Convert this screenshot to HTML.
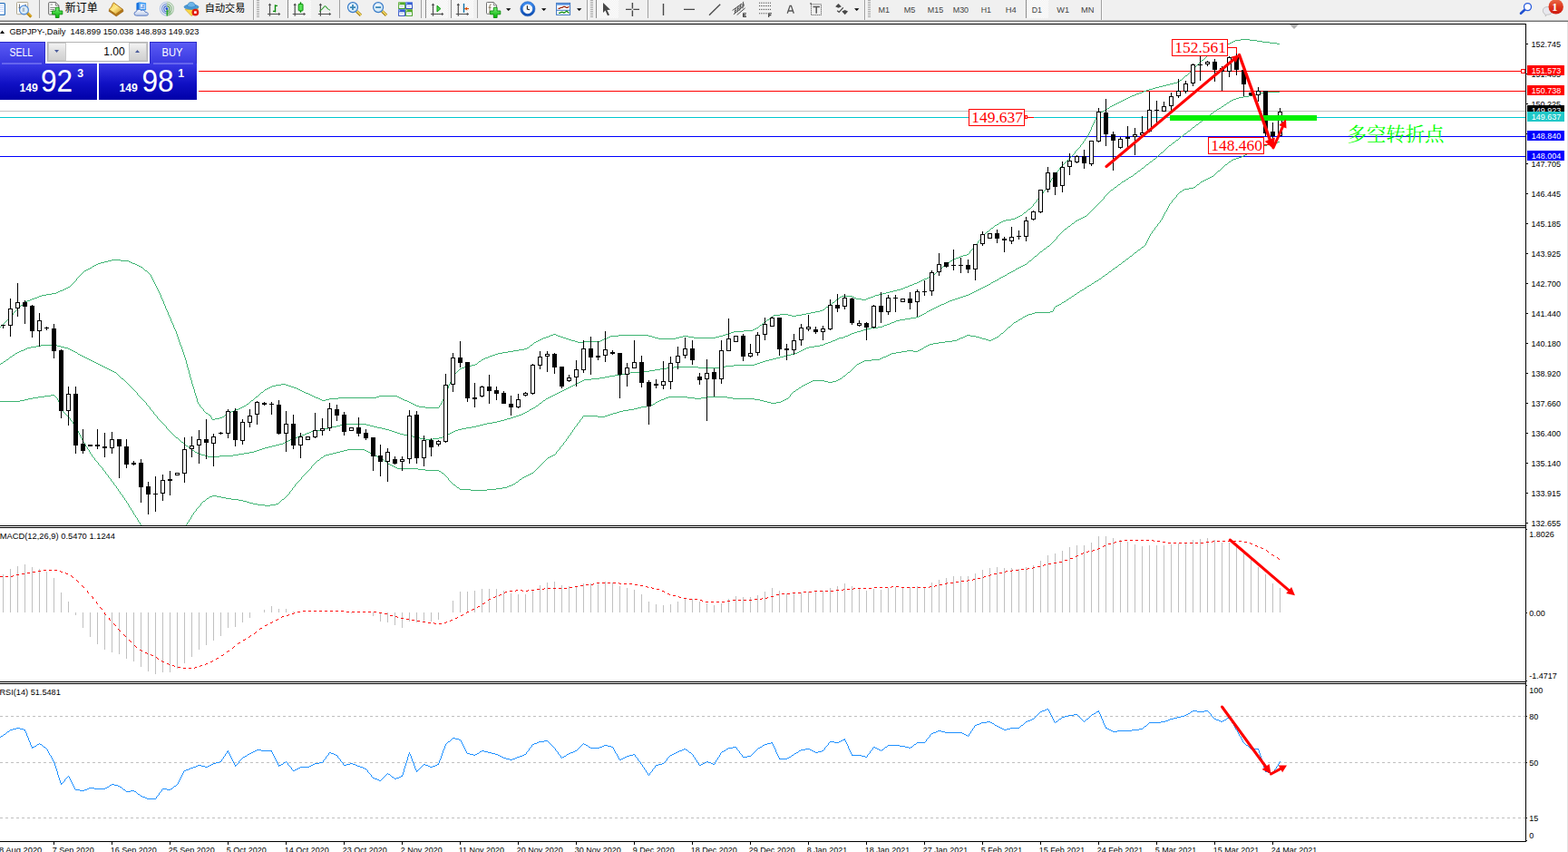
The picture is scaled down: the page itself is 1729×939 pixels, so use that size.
<!DOCTYPE html><html><head><meta charset="utf-8"><title>GBPJPY Daily</title>
<style>html,body{margin:0;padding:0;background:#fff;}body{width:1729px;height:939px;overflow:hidden;position:relative;font-family:"Liberation Sans",sans-serif;}svg{position:absolute;left:0;top:0;display:block}text{font-family:"Liberation Sans",sans-serif;}.ax{font-size:9px;fill:#000}.lb{font-size:9px;fill:#fff}.ser{font-family:"Liberation Serif",serif;font-size:17px;fill:#f00}</style></head><body>
<svg width="1729" height="939" viewBox="0 0 1729 939">
<defs><linearGradient id="gb1" x1="0" y1="0" x2="0" y2="1"><stop offset="0" stop-color="#5a5af5"/><stop offset="1" stop-color="#3838e0"/></linearGradient><linearGradient id="gb2" x1="0" y1="0" x2="0" y2="1"><stop offset="0" stop-color="#3a3ae6"/><stop offset="0.55" stop-color="#1010c4"/><stop offset="1" stop-color="#0000a8"/></linearGradient><linearGradient id="gsp" x1="0" y1="0" x2="0" y2="1"><stop offset="0" stop-color="#f4f4f4"/><stop offset="0.5" stop-color="#dedede"/><stop offset="1" stop-color="#d0d0d0"/></linearGradient></defs>
<rect width="1729" height="939" fill="#fff"/>
<g shape-rendering="crispEdges">
<rect x="0" y="78" width="1682" height="1" fill="#ff0000"/>
<rect x="0" y="100" width="1682" height="1" fill="#ff0000"/>
<rect x="0" y="122" width="1682" height="1" fill="#c0c0c0"/>
<rect x="0" y="129" width="1682" height="1" fill="#00c8d0"/>
<rect x="0" y="150" width="1682" height="1" fill="#0000ff"/>
<rect x="0" y="172" width="1682" height="1" fill="#0000ff"/>
</g>
<path d="M0 360h1v1h-1zM1 359h1v1h-1zM2 358h1v1h-1zM3 357h1v1h-1zM4 356h1v1h-1zM5 355h1v1h-1zM6 354h1v1h-1zM7 353h1v1h-1zM8 352h1v1h-1zM9 351h1v1h-1zM10 350h1v1h-1zM11 349h1v1h-1zM12 348h1v1h-1zM13 347h1v1h-1zM14 345h1v2h-1zM15 344h1v1h-1zM16 343h1v1h-1zM17 342h1v1h-1zM18 341h1v1h-1zM19 340h1v1h-1zM20 339h1v1h-1zM21 338h1v1h-1zM22 337h1v1h-1zM23 336h2v1h-2zM25 335h1v1h-1zM26 334h1v1h-1zM27 333h1v1h-1zM28 332h2v1h-2zM30 331h3v1h-3zM33 330h2v1h-2zM35 329h3v1h-3zM38 328h3v1h-3zM41 327h2v1h-2zM43 326h3v1h-3zM46 325h5v1h-5zM51 324h6v1h-6zM57 323h5v1h-5zM62 322h2v1h-2zM64 321h2v1h-2zM66 320h3v1h-3zM69 319h2v1h-2zM71 318h2v1h-2zM73 317h2v1h-2zM75 316h2v1h-2zM77 315h1v1h-1zM78 314h1v1h-1zM79 313h1v1h-1zM80 312h1v1h-1zM81 311h1v1h-1zM82 310h1v1h-1zM83 309h1v1h-1zM84 307h1v2h-1zM85 306h1v1h-1zM86 305h1v1h-1zM87 304h1v1h-1zM88 303h1v1h-1zM89 302h1v1h-1zM90 301h1v1h-1zM91 300h1v1h-1zM92 299h1v1h-1zM93 298h2v1h-2zM95 297h2v1h-2zM97 296h2v1h-2zM99 295h2v1h-2zM101 294h1v1h-1zM102 293h2v1h-2zM104 292h2v1h-2zM106 291h2v1h-2zM108 290h3v1h-3zM111 289h4v1h-4zM115 288h4v1h-4zM119 287h4v1h-4zM123 286h10v1h-10zM133 287h9v1h-9zM142 288h2v1h-2zM144 289h2v1h-2zM146 290h3v1h-3zM149 291h2v1h-2zM151 292h2v1h-2zM153 293h2v1h-2zM155 294h2v1h-2zM157 295h1v1h-1zM158 296h1v1h-1zM159 297h1v1h-1zM160 298h2v1h-2zM162 299h1v1h-1zM163 300h1v1h-1zM164 301h1v1h-1zM165 302h1v1h-1zM166 303h1v2h-1zM167 305h1v2h-1zM168 307h1v2h-1zM169 309h1v2h-1zM170 311h1v2h-1zM171 313h1v2h-1zM172 315h1v2h-1zM173 317h1v2h-1zM174 319h1v2h-1zM175 321h1v2h-1zM176 323h1v2h-1zM177 325h1v3h-1zM178 328h1v2h-1zM179 330h1v2h-1zM180 332h1v3h-1zM181 335h1v2h-1zM182 337h1v3h-1zM183 340h1v2h-1zM184 342h1v2h-1zM185 344h1v3h-1zM186 347h1v2h-1zM187 349h1v2h-1zM188 351h1v3h-1zM189 354h1v2h-1zM190 356h1v2h-1zM191 358h1v3h-1zM192 361h1v2h-1zM193 363h1v2h-1zM194 365h1v3h-1zM195 368h1v3h-1zM196 371h1v3h-1zM197 374h1v3h-1zM198 377h1v3h-1zM199 380h1v2h-1zM200 382h1v3h-1zM201 385h1v3h-1zM202 388h1v3h-1zM203 391h1v3h-1zM204 394h1v3h-1zM205 397h1v4h-1zM206 401h1v4h-1zM207 405h1v3h-1zM208 408h1v4h-1zM209 412h1v4h-1zM210 416h1v3h-1zM211 419h1v4h-1zM212 423h1v3h-1zM213 426h1v3h-1zM214 429h1v4h-1zM215 433h1v3h-1zM216 436h1v3h-1zM217 439h1v4h-1zM218 443h1v2h-1zM219 445h1v1h-1zM220 446h1v2h-1zM221 448h1v1h-1zM222 449h1v1h-1zM223 450h1v1h-1zM224 451h1v2h-1zM225 453h1v1h-1zM226 454h1v1h-1zM227 455h2v1h-2zM229 456h1v1h-1zM230 457h2v1h-2zM232 458h1v2h-1zM233 460h1v2h-1zM234 462h3v1h-3zM237 461h5v1h-5zM242 460h3v1h-3zM245 459h2v1h-2zM247 458h1v1h-1zM248 457h2v1h-2zM250 456h1v1h-1zM251 455h2v1h-2zM253 454h2v1h-2zM255 453h3v1h-3zM258 452h2v1h-2zM260 451h3v1h-3zM263 450h2v1h-2zM265 449h2v1h-2zM267 448h2v1h-2zM269 447h2v1h-2zM271 446h1v1h-1zM272 445h2v1h-2zM274 444h1v1h-1zM275 443h1v1h-1zM276 442h1v1h-1zM277 441h2v1h-2zM279 440h1v1h-1zM280 439h1v1h-1zM281 438h1v1h-1zM282 437h2v1h-2zM284 436h1v1h-1zM285 435h1v1h-1zM286 434h1v1h-1zM287 433h1v1h-1zM288 432h2v1h-2zM290 431h1v1h-1zM291 430h1v1h-1zM292 429h2v1h-2zM294 428h2v1h-2zM296 427h2v1h-2zM298 426h2v1h-2zM300 425h4v1h-4zM304 424h6v1h-6zM310 423h5v1h-5zM315 424h3v1h-3zM318 425h3v1h-3zM321 426h3v1h-3zM324 427h3v1h-3zM327 428h2v1h-2zM329 429h2v1h-2zM331 430h2v1h-2zM333 431h2v1h-2zM335 432h2v1h-2zM337 433h3v1h-3zM340 434h2v1h-2zM342 435h2v1h-2zM344 436h2v1h-2zM346 437h2v1h-2zM348 438h3v1h-3zM351 439h2v1h-2zM353 440h2v1h-2zM355 441h4v1h-4zM359 440h4v1h-4zM363 439h10v1h-10zM373 438h42v1h-42zM415 437h3v1h-3zM418 436h20v1h-20zM438 437h2v1h-2zM440 438h2v1h-2zM442 439h2v1h-2zM444 440h2v1h-2zM446 441h3v1h-3zM449 442h2v1h-2zM451 443h2v1h-2zM453 444h2v1h-2zM455 445h2v1h-2zM457 446h2v1h-2zM459 447h3v1h-3zM462 448h7v1h-7zM469 449h15v1h-15zM484 447h1v2h-1zM485 446h1v1h-1zM486 444h1v2h-1zM487 442h1v2h-1zM488 440h1v2h-1zM489 437h1v3h-1zM490 435h1v2h-1zM491 433h1v2h-1zM492 430h1v3h-1zM493 428h1v2h-1zM494 425h1v3h-1zM495 423h1v2h-1zM496 421h1v2h-1zM497 419h1v2h-1zM498 417h1v2h-1zM499 415h1v2h-1zM500 413h1v2h-1zM501 412h1v1h-1zM502 411h1v1h-1zM503 410h1v1h-1zM504 409h1v1h-1zM505 408h1v1h-1zM506 407h1v1h-1zM507 406h2v1h-2zM509 405h3v1h-3zM512 404h2v1h-2zM514 403h6v1h-6zM520 402h4v1h-4zM524 401h2v1h-2zM526 400h1v1h-1zM527 399h1v1h-1zM528 398h2v1h-2zM530 397h1v1h-1zM531 396h2v1h-2zM533 395h2v1h-2zM535 394h3v1h-3zM538 393h2v1h-2zM540 392h3v1h-3zM543 391h3v1h-3zM546 390h3v1h-3zM549 389h5v1h-5zM554 388h6v1h-6zM560 387h6v1h-6zM566 386h6v1h-6zM572 385h6v1h-6zM578 384h3v1h-3zM581 383h2v1h-2zM583 382h1v1h-1zM584 381h1v1h-1zM585 380h2v1h-2zM587 379h1v1h-1zM588 378h1v1h-1zM589 377h2v1h-2zM591 376h2v1h-2zM593 375h2v1h-2zM595 374h2v1h-2zM597 373h2v1h-2zM599 372h3v1h-3zM602 371h3v1h-3zM605 370h2v1h-2zM607 369h3v1h-3zM610 368h3v1h-3zM613 369h2v1h-2zM615 370h3v1h-3zM618 371h3v1h-3zM621 372h3v1h-3zM624 373h3v1h-3zM627 374h3v1h-3zM630 375h4v1h-4zM634 376h3v1h-3zM637 377h7v1h-7zM644 376h18v1h-18zM662 375h2v1h-2zM664 374h2v1h-2zM666 373h3v1h-3zM669 372h2v1h-2zM671 371h2v1h-2zM673 370h9v1h-9zM682 369h33v1h-33zM715 370h4v1h-4zM719 371h3v1h-3zM722 372h4v1h-4zM726 373h19v1h-19zM745 372h4v1h-4zM749 371h4v1h-4zM753 370h6v1h-6zM759 371h6v1h-6zM765 372h24v1h-24zM789 371h4v1h-4zM793 370h4v1h-4zM797 369h3v1h-3zM800 368h3v1h-3zM803 367h3v1h-3zM806 366h3v1h-3zM809 365h11v1h-11zM820 364h10v1h-10zM830 363h2v1h-2zM832 362h2v1h-2zM834 361h2v1h-2zM836 360h1v1h-1zM837 359h1v1h-1zM838 358h2v1h-2zM840 357h1v1h-1zM841 356h1v1h-1zM842 355h2v1h-2zM844 354h1v1h-1zM845 353h1v1h-1zM846 352h2v1h-2zM848 351h1v1h-1zM849 350h1v1h-1zM850 349h2v1h-2zM852 348h1v1h-1zM853 347h7v1h-7zM860 346h9v1h-9zM869 347h4v1h-4zM873 348h5v1h-5zM878 347h6v1h-6zM884 346h5v1h-5zM889 345h5v1h-5zM894 344h5v1h-5zM899 343h5v1h-5zM904 342h3v1h-3zM907 341h2v1h-2zM909 340h1v1h-1zM910 339h1v1h-1zM911 338h2v1h-2zM913 337h1v1h-1zM914 336h1v1h-1zM915 335h2v1h-2zM917 334h1v1h-1zM918 333h2v1h-2zM920 332h1v1h-1zM921 331h1v1h-1zM922 330h2v1h-2zM924 329h1v1h-1zM925 328h1v1h-1zM926 327h2v1h-2zM928 326h12v1h-12zM940 327h2v1h-2zM942 328h2v1h-2zM944 329h6v1h-6zM950 330h5v1h-5zM955 329h2v1h-2zM957 328h3v1h-3zM960 327h3v1h-3zM963 326h2v1h-2zM965 325h4v1h-4zM969 324h4v1h-4zM973 323h4v1h-4zM977 322h4v1h-4zM981 321h4v1h-4zM985 320h4v1h-4zM989 319h4v1h-4zM993 318h3v1h-3zM996 317h2v1h-2zM998 316h3v1h-3zM1001 315h2v1h-2zM1003 314h3v1h-3zM1006 313h2v1h-2zM1008 312h3v1h-3zM1011 311h2v1h-2zM1013 310h2v1h-2zM1015 309h2v1h-2zM1017 308h2v1h-2zM1019 307h3v1h-3zM1022 306h2v1h-2zM1024 305h2v1h-2zM1026 304h2v1h-2zM1028 303h2v1h-2zM1030 302h1v1h-1zM1031 301h1v1h-1zM1032 300h1v1h-1zM1033 299h1v1h-1zM1034 298h2v1h-2zM1036 297h1v1h-1zM1037 296h1v1h-1zM1038 295h1v1h-1zM1039 294h1v1h-1zM1040 293h1v1h-1zM1041 292h2v1h-2zM1043 291h1v1h-1zM1044 290h2v1h-2zM1046 289h1v1h-1zM1047 288h1v1h-1zM1048 287h2v1h-2zM1050 286h2v1h-2zM1052 285h2v1h-2zM1054 284h3v1h-3zM1057 283h2v1h-2zM1059 282h3v1h-3zM1062 281h4v1h-4zM1066 280h2v1h-2zM1068 279h1v1h-1zM1069 277h1v2h-1zM1070 276h1v1h-1zM1071 275h1v1h-1zM1072 274h1v1h-1zM1073 273h1v1h-1zM1074 271h1v2h-1zM1075 270h1v1h-1zM1076 269h1v1h-1zM1077 268h1v1h-1zM1078 266h1v2h-1zM1079 265h1v1h-1zM1080 264h1v1h-1zM1081 263h1v1h-1zM1082 262h1v1h-1zM1083 260h1v2h-1zM1084 259h1v1h-1zM1085 258h1v1h-1zM1086 257h1v1h-1zM1087 256h1v1h-1zM1088 255h2v1h-2zM1090 254h1v1h-1zM1091 253h1v1h-1zM1092 252h1v1h-1zM1093 251h2v1h-2zM1095 250h1v1h-1zM1096 249h1v1h-1zM1097 248h2v1h-2zM1099 247h2v1h-2zM1101 246h1v1h-1zM1102 245h2v1h-2zM1104 244h2v1h-2zM1106 243h3v1h-3zM1109 242h6v1h-6zM1115 241h4v1h-4zM1119 240h2v1h-2zM1121 239h2v1h-2zM1123 238h2v1h-2zM1125 237h2v1h-2zM1127 236h1v1h-1zM1128 235h1v1h-1zM1129 234h2v1h-2zM1131 233h1v1h-1zM1132 232h1v1h-1zM1133 231h1v1h-1zM1134 230h2v1h-2zM1136 229h1v1h-1zM1137 228h1v1h-1zM1138 227h1v1h-1zM1139 225h1v2h-1zM1140 224h1v1h-1zM1141 223h1v1h-1zM1142 222h1v1h-1zM1143 220h1v2h-1zM1144 219h1v1h-1zM1145 218h1v1h-1zM1146 217h1v1h-1zM1147 215h1v2h-1zM1148 214h1v1h-1zM1149 213h1v1h-1zM1150 211h1v2h-1zM1151 210h1v1h-1zM1152 209h1v1h-1zM1153 207h1v2h-1zM1154 206h1v1h-1zM1155 205h1v1h-1zM1156 203h1v2h-1zM1157 201h1v2h-1zM1158 199h1v2h-1zM1159 197h1v2h-1zM1160 196h1v1h-1zM1161 194h1v2h-1zM1162 193h1v1h-1zM1163 192h1v1h-1zM1164 191h1v1h-1zM1165 189h1v2h-1zM1166 188h1v1h-1zM1167 187h1v1h-1zM1168 185h1v2h-1zM1169 184h1v1h-1zM1170 183h1v1h-1zM1171 182h1v1h-1zM1172 181h1v1h-1zM1173 180h1v1h-1zM1174 179h1v1h-1zM1175 178h1v1h-1zM1176 177h1v1h-1zM1177 176h1v1h-1zM1178 175h1v1h-1zM1179 174h1v1h-1zM1180 173h1v1h-1zM1181 172h1v1h-1zM1182 171h1v1h-1zM1183 170h1v1h-1zM1184 169h1v1h-1zM1185 167h1v2h-1zM1186 166h1v1h-1zM1187 165h1v1h-1zM1188 164h1v1h-1zM1189 163h1v1h-1zM1190 162h1v1h-1zM1191 160h1v2h-1zM1192 159h1v1h-1zM1193 158h1v1h-1zM1194 156h1v2h-1zM1195 155h1v1h-1zM1196 153h1v2h-1zM1197 152h1v1h-1zM1198 151h1v1h-1zM1199 149h1v2h-1zM1200 147h1v2h-1zM1201 145h1v2h-1zM1202 143h1v2h-1zM1203 140h1v3h-1zM1204 138h1v2h-1zM1205 136h1v2h-1zM1206 134h1v2h-1zM1207 132h1v2h-1zM1208 130h1v2h-1zM1209 129h1v1h-1zM1210 128h1v1h-1zM1211 126h1v2h-1zM1212 125h1v1h-1zM1213 124h1v1h-1zM1214 123h2v1h-2zM1216 122h2v1h-2zM1218 121h1v1h-1zM1219 120h2v1h-2zM1221 119h2v1h-2zM1223 118h1v1h-1zM1224 117h2v1h-2zM1226 116h2v1h-2zM1228 115h2v1h-2zM1230 114h2v1h-2zM1232 113h2v1h-2zM1234 112h2v1h-2zM1236 111h2v1h-2zM1238 110h2v1h-2zM1240 109h2v1h-2zM1242 108h2v1h-2zM1244 107h2v1h-2zM1246 106h2v1h-2zM1248 105h3v1h-3zM1251 104h2v1h-2zM1253 103h3v1h-3zM1256 102h3v1h-3zM1259 101h2v1h-2zM1261 100h3v1h-3zM1264 99h3v1h-3zM1267 98h4v1h-4zM1271 97h3v1h-3zM1274 96h4v1h-4zM1278 95h4v1h-4zM1282 94h4v1h-4zM1286 93h4v1h-4zM1290 92h4v1h-4zM1294 91h4v1h-4zM1298 90h2v1h-2zM1300 89h1v1h-1zM1301 88h2v1h-2zM1303 87h1v1h-1zM1304 86h1v1h-1zM1305 85h1v1h-1zM1306 84h1v1h-1zM1307 83h2v1h-2zM1309 82h1v1h-1zM1310 81h1v1h-1zM1311 80h1v1h-1zM1312 79h1v1h-1zM1313 78h1v1h-1zM1314 77h1v1h-1zM1315 76h1v1h-1zM1316 75h1v1h-1zM1317 74h1v1h-1zM1318 73h1v1h-1zM1319 72h1v1h-1zM1320 71h1v1h-1zM1321 70h1v1h-1zM1322 69h1v1h-1zM1323 68h1v1h-1zM1324 67h1v1h-1zM1325 66h2v1h-2zM1327 65h1v1h-1zM1328 64h1v1h-1zM1329 63h1v1h-1zM1330 62h1v1h-1zM1331 61h1v1h-1zM1332 60h1v1h-1zM1333 59h2v1h-2zM1335 58h1v1h-1zM1336 57h1v1h-1zM1337 56h2v1h-2zM1339 55h1v1h-1zM1340 54h3v1h-3zM1343 55h2v1h-2zM1345 53h1v2h-1zM1346 51h1v2h-1zM1347 50h2v1h-2zM1349 49h4v1h-4zM1353 48h3v1h-3zM1356 47h2v1h-2zM1358 46h2v1h-2zM1360 45h2v1h-2zM1362 44h6v1h-6zM1368 43h10v1h-10zM1378 44h8v1h-8zM1386 45h6v1h-6zM1392 46h8v1h-8zM1400 47h8v1h-8zM1408 48h3v1h-3z" fill="#3cb371" shape-rendering="crispEdges"/>
<path d="M0 401h1v1h-1zM1 400h2v1h-2zM3 399h1v1h-1zM4 398h2v1h-2zM6 397h1v1h-1zM7 396h2v1h-2zM9 395h1v1h-1zM10 394h1v1h-1zM11 393h2v1h-2zM13 392h1v1h-1zM14 391h2v1h-2zM16 390h1v1h-1zM17 389h2v1h-2zM19 388h2v1h-2zM21 387h2v1h-2zM23 386h3v1h-3zM26 385h2v1h-2zM28 384h2v1h-2zM30 383h4v1h-4zM34 382h6v1h-6zM40 381h5v1h-5zM45 380h18v1h-18zM63 381h4v1h-4zM67 382h4v1h-4zM71 383h4v1h-4zM75 384h2v1h-2zM77 385h2v1h-2zM79 386h2v1h-2zM81 387h2v1h-2zM83 388h2v1h-2zM85 389h1v1h-1zM86 390h2v1h-2zM88 391h2v1h-2zM90 392h2v1h-2zM92 393h2v1h-2zM94 394h2v1h-2zM96 395h2v1h-2zM98 396h2v1h-2zM100 397h2v1h-2zM102 398h2v1h-2zM104 399h2v1h-2zM106 400h2v1h-2zM108 401h2v1h-2zM110 402h2v1h-2zM112 403h2v1h-2zM114 404h2v1h-2zM116 405h2v1h-2zM118 406h2v1h-2zM120 407h2v1h-2zM122 408h2v1h-2zM124 409h2v1h-2zM126 410h2v1h-2zM128 411h1v1h-1zM129 412h1v1h-1zM130 413h1v1h-1zM131 414h1v1h-1zM132 415h1v1h-1zM133 416h1v1h-1zM134 417h2v1h-2zM136 418h1v1h-1zM137 419h1v1h-1zM138 420h1v1h-1zM139 421h1v1h-1zM140 422h1v1h-1zM141 423h1v1h-1zM142 424h1v1h-1zM143 425h1v1h-1zM144 426h1v1h-1zM145 427h1v1h-1zM146 428h1v1h-1zM147 429h1v1h-1zM148 430h1v1h-1zM149 431h1v1h-1zM150 432h1v1h-1zM151 433h1v2h-1zM152 435h1v1h-1zM153 436h1v1h-1zM154 437h1v1h-1zM155 438h1v1h-1zM156 439h1v1h-1zM157 440h1v1h-1zM158 441h1v1h-1zM159 442h1v1h-1zM160 443h1v1h-1zM161 444h1v2h-1zM162 446h1v1h-1zM163 447h1v1h-1zM164 448h1v1h-1zM165 449h1v2h-1zM166 451h1v1h-1zM167 452h1v1h-1zM168 453h1v1h-1zM169 454h1v2h-1zM170 456h1v1h-1zM171 457h1v1h-1zM172 458h1v1h-1zM173 459h1v2h-1zM174 461h1v1h-1zM175 462h1v1h-1zM176 463h1v1h-1zM177 464h1v1h-1zM178 465h1v1h-1zM179 466h1v1h-1zM180 467h1v1h-1zM181 468h1v1h-1zM182 469h1v1h-1zM183 470h1v2h-1zM184 472h1v1h-1zM185 473h1v1h-1zM186 474h1v1h-1zM187 475h1v1h-1zM188 476h1v1h-1zM189 477h1v1h-1zM190 478h1v1h-1zM191 479h1v1h-1zM192 480h1v1h-1zM193 481h1v1h-1zM194 482h2v1h-2zM196 483h1v1h-1zM197 484h1v1h-1zM198 485h1v1h-1zM199 486h1v1h-1zM200 487h2v1h-2zM202 488h1v1h-1zM203 489h1v1h-1zM204 490h1v1h-1zM205 491h2v1h-2zM207 492h1v1h-1zM208 493h2v1h-2zM210 494h1v1h-1zM211 495h1v1h-1zM212 496h2v1h-2zM214 497h1v1h-1zM215 498h2v1h-2zM217 499h2v1h-2zM219 500h3v1h-3zM222 501h4v1h-4zM226 502h3v1h-3zM229 503h13v1h-13zM242 502h15v1h-15zM257 501h6v1h-6zM263 500h6v1h-6zM269 499h6v1h-6zM275 498h5v1h-5zM280 497h3v1h-3zM283 496h3v1h-3zM286 495h3v1h-3zM289 494h3v1h-3zM292 493h4v1h-4zM296 492h4v1h-4zM300 491h4v1h-4zM304 490h4v1h-4zM308 489h4v1h-4zM312 488h2v1h-2zM314 487h2v1h-2zM316 486h2v1h-2zM318 485h2v1h-2zM320 484h2v1h-2zM322 483h3v1h-3zM325 482h3v1h-3zM328 481h2v1h-2zM330 480h3v1h-3zM333 479h3v1h-3zM336 478h2v1h-2zM338 477h3v1h-3zM341 476h2v1h-2zM343 475h4v1h-4zM347 474h6v1h-6zM353 473h5v1h-5zM358 472h4v1h-4zM362 471h4v1h-4zM366 470h5v1h-5zM371 469h4v1h-4zM375 468h4v1h-4zM379 467h25v1h-25zM404 468h4v1h-4zM408 469h4v1h-4zM412 470h4v1h-4zM416 471h5v1h-5zM421 472h4v1h-4zM425 473h4v1h-4zM429 474h3v1h-3zM432 475h3v1h-3zM435 476h3v1h-3zM438 477h3v1h-3zM441 478h4v1h-4zM445 479h5v1h-5zM450 480h5v1h-5zM455 481h4v1h-4zM459 482h4v1h-4zM463 483h6v1h-6zM469 484h8v1h-8zM477 483h7v1h-7zM484 482h4v1h-4zM488 481h2v1h-2zM490 480h2v1h-2zM492 479h2v1h-2zM494 478h2v1h-2zM496 477h2v1h-2zM498 476h2v1h-2zM500 475h2v1h-2zM502 474h3v1h-3zM505 473h4v1h-4zM509 472h5v1h-5zM514 471h6v1h-6zM520 470h5v1h-5zM525 469h4v1h-4zM529 468h4v1h-4zM533 467h4v1h-4zM537 466h6v1h-6zM543 465h5v1h-5zM548 464h4v1h-4zM552 463h4v1h-4zM556 462h3v1h-3zM559 461h4v1h-4zM563 460h3v1h-3zM566 459h3v1h-3zM569 458h3v1h-3zM572 457h3v1h-3zM575 456h2v1h-2zM577 455h2v1h-2zM579 454h2v1h-2zM581 453h2v1h-2zM583 452h1v1h-1zM584 451h2v1h-2zM586 450h2v1h-2zM588 449h2v1h-2zM590 448h1v1h-1zM591 447h2v1h-2zM593 446h1v1h-1zM594 445h1v1h-1zM595 444h2v1h-2zM597 443h1v1h-1zM598 442h1v1h-1zM599 441h2v1h-2zM601 440h1v1h-1zM602 439h2v1h-2zM604 438h2v1h-2zM606 437h2v1h-2zM608 436h2v1h-2zM610 435h2v1h-2zM612 434h2v1h-2zM614 433h2v1h-2zM616 432h2v1h-2zM618 431h2v1h-2zM620 430h2v1h-2zM622 429h2v1h-2zM624 428h2v1h-2zM626 427h2v1h-2zM628 426h2v1h-2zM630 425h2v1h-2zM632 424h2v1h-2zM634 423h2v1h-2zM636 422h2v1h-2zM638 421h2v1h-2zM640 420h2v1h-2zM642 419h2v1h-2zM644 418h8v1h-8zM652 417h9v1h-9zM661 416h6v1h-6zM667 415h5v1h-5zM672 414h6v1h-6zM678 413h7v1h-7zM685 412h6v1h-6zM691 411h4v1h-4zM695 410h10v1h-10zM705 409h11v1h-11zM716 408h6v1h-6zM722 407h6v1h-6zM728 406h7v1h-7zM735 405h8v1h-8zM743 404h27v1h-27zM770 405h26v1h-26zM796 404h4v1h-4zM800 403h9v1h-9zM809 402h23v1h-23zM832 401h3v1h-3zM835 400h3v1h-3zM838 399h3v1h-3zM841 398h3v1h-3zM844 397h4v1h-4zM848 396h4v1h-4zM852 395h4v1h-4zM856 394h4v1h-4zM860 393h4v1h-4zM864 392h4v1h-4zM868 391h4v1h-4zM872 390h4v1h-4zM876 389h3v1h-3zM879 388h2v1h-2zM881 387h2v1h-2zM883 386h2v1h-2zM885 385h2v1h-2zM887 384h2v1h-2zM889 383h3v1h-3zM892 382h6v1h-6zM898 381h6v1h-6zM904 380h4v1h-4zM908 379h2v1h-2zM910 378h3v1h-3zM913 377h3v1h-3zM916 376h2v1h-2zM918 375h3v1h-3zM921 374h2v1h-2zM923 373h2v1h-2zM925 372h5v1h-5zM930 371h2v1h-2zM932 370h3v1h-3zM935 369h2v1h-2zM937 368h2v1h-2zM939 367h3v1h-3zM942 366h3v1h-3zM945 365h4v1h-4zM949 364h3v1h-3zM952 363h3v1h-3zM955 362h5v1h-5zM960 361h8v1h-8zM968 360h5v1h-5zM973 359h2v1h-2zM975 358h3v1h-3zM978 357h3v1h-3zM981 356h2v1h-2zM983 355h3v1h-3zM986 354h2v1h-2zM988 353h4v1h-4zM992 352h6v1h-6zM998 351h6v1h-6zM1004 350h6v1h-6zM1010 349h3v1h-3zM1013 348h2v1h-2zM1015 347h2v1h-2zM1017 346h2v1h-2zM1019 345h2v1h-2zM1021 344h1v1h-1zM1022 343h2v1h-2zM1024 342h2v1h-2zM1026 341h2v1h-2zM1028 340h2v1h-2zM1030 339h2v1h-2zM1032 338h2v1h-2zM1034 337h2v1h-2zM1036 336h2v1h-2zM1038 335h3v1h-3zM1041 334h2v1h-2zM1043 333h2v1h-2zM1045 332h2v1h-2zM1047 331h3v1h-3zM1050 330h3v1h-3zM1053 329h3v1h-3zM1056 328h3v1h-3zM1059 327h3v1h-3zM1062 326h3v1h-3zM1065 325h3v1h-3zM1068 324h2v1h-2zM1070 323h2v1h-2zM1072 322h2v1h-2zM1074 321h2v1h-2zM1076 320h2v1h-2zM1078 319h2v1h-2zM1080 318h2v1h-2zM1082 317h2v1h-2zM1084 316h2v1h-2zM1086 315h2v1h-2zM1088 314h2v1h-2zM1090 313h2v1h-2zM1092 312h1v1h-1zM1093 311h2v1h-2zM1095 310h2v1h-2zM1097 309h2v1h-2zM1099 308h2v1h-2zM1101 307h1v1h-1zM1102 306h2v1h-2zM1104 305h2v1h-2zM1106 304h2v1h-2zM1108 303h2v1h-2zM1110 302h1v1h-1zM1111 301h2v1h-2zM1113 300h2v1h-2zM1115 299h2v1h-2zM1117 298h2v1h-2zM1119 297h1v1h-1zM1120 296h2v1h-2zM1122 295h2v1h-2zM1124 294h2v1h-2zM1126 293h2v1h-2zM1128 292h2v1h-2zM1130 291h2v1h-2zM1132 290h1v1h-1zM1133 289h1v1h-1zM1134 288h1v1h-1zM1135 287h2v1h-2zM1137 286h1v1h-1zM1138 285h1v1h-1zM1139 284h1v1h-1zM1140 283h1v1h-1zM1141 282h2v1h-2zM1143 281h1v1h-1zM1144 280h1v1h-1zM1145 279h1v1h-1zM1146 278h1v1h-1zM1147 277h2v1h-2zM1149 276h1v1h-1zM1150 275h1v1h-1zM1151 274h2v1h-2zM1153 273h1v1h-1zM1154 272h1v1h-1zM1155 271h2v1h-2zM1157 270h1v1h-1zM1158 269h1v1h-1zM1159 268h1v1h-1zM1160 267h1v1h-1zM1161 266h1v1h-1zM1162 265h1v1h-1zM1163 264h1v1h-1zM1164 263h1v1h-1zM1165 261h1v2h-1zM1166 260h1v1h-1zM1167 259h1v1h-1zM1168 258h1v1h-1zM1169 257h1v1h-1zM1170 256h1v1h-1zM1171 255h1v1h-1zM1172 254h1v1h-1zM1173 253h1v1h-1zM1174 252h2v1h-2zM1176 251h1v1h-1zM1177 250h1v1h-1zM1178 249h2v1h-2zM1180 248h1v1h-1zM1181 247h1v1h-1zM1182 246h2v1h-2zM1184 245h1v1h-1zM1185 244h1v1h-1zM1186 243h2v1h-2zM1188 242h2v1h-2zM1190 241h2v1h-2zM1192 240h2v1h-2zM1194 239h2v1h-2zM1196 238h2v1h-2zM1198 237h1v1h-1zM1199 236h1v1h-1zM1200 235h1v1h-1zM1201 234h1v1h-1zM1202 233h1v1h-1zM1203 232h1v1h-1zM1204 231h1v1h-1zM1205 230h1v1h-1zM1206 229h1v1h-1zM1207 228h1v1h-1zM1208 227h1v1h-1zM1209 226h1v1h-1zM1210 225h1v1h-1zM1211 224h1v1h-1zM1212 223h1v1h-1zM1213 222h1v1h-1zM1214 221h1v1h-1zM1215 220h1v1h-1zM1216 219h1v1h-1zM1217 217h1v2h-1zM1218 216h1v1h-1zM1219 215h1v1h-1zM1220 214h1v1h-1zM1221 213h1v1h-1zM1222 212h1v1h-1zM1223 211h1v1h-1zM1224 210h1v1h-1zM1225 209h2v1h-2zM1227 208h1v1h-1zM1228 207h1v1h-1zM1229 206h2v1h-2zM1231 205h1v1h-1zM1232 204h1v1h-1zM1233 203h2v1h-2zM1235 202h1v1h-1zM1236 201h1v1h-1zM1237 200h2v1h-2zM1239 199h2v1h-2zM1241 198h1v1h-1zM1242 197h2v1h-2zM1244 196h1v1h-1zM1245 195h2v1h-2zM1247 194h2v1h-2zM1249 193h1v1h-1zM1250 192h1v1h-1zM1251 191h2v1h-2zM1253 190h1v1h-1zM1254 189h1v1h-1zM1255 188h2v1h-2zM1257 187h1v1h-1zM1258 186h1v1h-1zM1259 185h2v1h-2zM1261 184h1v1h-1zM1262 183h1v1h-1zM1263 182h1v1h-1zM1264 181h2v1h-2zM1266 180h1v1h-1zM1267 179h1v1h-1zM1268 178h2v1h-2zM1270 177h1v1h-1zM1271 176h1v1h-1zM1272 175h2v1h-2zM1274 174h1v1h-1zM1275 173h1v1h-1zM1276 172h1v1h-1zM1277 171h1v1h-1zM1278 170h1v1h-1zM1279 169h1v1h-1zM1280 168h2v1h-2zM1282 167h1v1h-1zM1283 166h1v1h-1zM1284 165h1v1h-1zM1285 164h1v1h-1zM1286 163h1v1h-1zM1287 162h1v1h-1zM1288 161h1v1h-1zM1289 160h2v1h-2zM1291 159h1v1h-1zM1292 158h1v1h-1zM1293 157h2v1h-2zM1295 156h1v1h-1zM1296 155h1v1h-1zM1297 154h2v1h-2zM1299 153h1v1h-1zM1300 152h1v1h-1zM1301 151h1v1h-1zM1302 150h2v1h-2zM1304 149h1v1h-1zM1305 148h1v1h-1zM1306 147h2v1h-2zM1308 146h1v1h-1zM1309 145h1v1h-1zM1310 144h2v1h-2zM1312 143h1v1h-1zM1313 142h1v1h-1zM1314 141h1v1h-1zM1315 140h2v1h-2zM1317 139h1v1h-1zM1318 138h1v1h-1zM1319 137h2v1h-2zM1321 136h1v1h-1zM1322 135h1v1h-1zM1323 134h2v1h-2zM1325 133h1v1h-1zM1326 132h1v1h-1zM1327 131h2v1h-2zM1329 130h1v1h-1zM1330 129h1v1h-1zM1331 128h2v1h-2zM1333 127h1v1h-1zM1334 126h1v1h-1zM1335 125h2v1h-2zM1337 124h1v1h-1zM1338 123h1v1h-1zM1339 122h2v1h-2zM1341 121h1v1h-1zM1342 120h2v1h-2zM1344 119h2v1h-2zM1346 118h1v1h-1zM1347 117h2v1h-2zM1349 116h1v1h-1zM1350 115h2v1h-2zM1352 114h1v1h-1zM1353 113h2v1h-2zM1355 112h1v1h-1zM1356 111h2v1h-2zM1358 110h2v1h-2zM1360 109h3v1h-3zM1363 108h3v1h-3zM1366 107h5v1h-5zM1371 106h6v1h-6zM1377 105h4v1h-4zM1381 104h4v1h-4zM1385 103h4v1h-4zM1389 102h7v1h-7zM1396 101h15v1h-15z" fill="#3cb371" shape-rendering="crispEdges"/>
<path d="M0 442h22v1h-22zM22 441h5v1h-5zM27 440h4v1h-4zM31 439h5v1h-5zM36 438h6v1h-6zM42 437h7v1h-7zM49 436h7v1h-7zM56 435h4v1h-4zM60 436h1v1h-1zM61 437h1v1h-1zM62 438h1v1h-1zM63 439h1v2h-1zM64 441h1v2h-1zM65 443h1v3h-1zM66 446h1v3h-1zM67 449h1v2h-1zM68 451h1v2h-1zM69 453h1v1h-1zM70 454h1v1h-1zM71 455h1v1h-1zM72 456h1v1h-1zM73 457h1v1h-1zM74 458h1v1h-1zM75 459h1v1h-1zM76 460h1v1h-1zM77 461h1v2h-1zM78 463h1v1h-1zM79 464h1v1h-1zM80 465h1v2h-1zM81 467h1v1h-1zM82 468h1v1h-1zM83 469h1v2h-1zM84 471h1v2h-1zM85 473h1v2h-1zM86 475h1v2h-1zM87 477h1v2h-1zM88 479h1v2h-1zM89 481h1v2h-1zM90 483h1v2h-1zM91 485h1v2h-1zM92 487h1v1h-1zM93 488h1v2h-1zM94 490h1v2h-1zM95 492h1v1h-1zM96 493h1v2h-1zM97 495h1v1h-1zM98 496h1v2h-1zM99 498h1v2h-1zM100 500h1v1h-1zM101 501h1v2h-1zM102 503h1v1h-1zM103 504h1v1h-1zM104 505h1v2h-1zM105 507h1v1h-1zM106 508h1v1h-1zM107 509h1v1h-1zM108 510h1v2h-1zM109 512h1v1h-1zM110 513h1v1h-1zM111 514h1v1h-1zM112 515h1v1h-1zM113 516h1v2h-1zM114 518h1v1h-1zM115 519h1v1h-1zM116 520h1v2h-1zM117 522h1v1h-1zM118 523h1v1h-1zM119 524h1v2h-1zM120 526h1v1h-1zM121 527h1v1h-1zM122 528h1v2h-1zM123 530h1v1h-1zM124 531h1v1h-1zM125 532h1v2h-1zM126 534h1v1h-1zM127 535h1v1h-1zM128 536h1v2h-1zM129 538h1v1h-1zM130 539h1v2h-1zM131 541h1v1h-1zM132 542h1v2h-1zM133 544h1v1h-1zM134 545h1v1h-1zM135 546h1v2h-1zM136 548h1v1h-1zM137 549h1v2h-1zM138 551h1v1h-1zM139 552h1v2h-1zM140 554h1v1h-1zM141 555h1v2h-1zM142 557h1v2h-1zM143 559h1v1h-1zM144 560h1v2h-1zM145 562h1v1h-1zM146 563h1v2h-1zM147 565h1v2h-1zM148 567h1v1h-1zM149 568h1v2h-1zM150 570h1v1h-1zM151 571h1v2h-1zM152 573h1v2h-1zM153 575h1v1h-1zM154 576h1v2h-1zM155 578h1v1h-1zM205 578h1v1h-1zM206 576h1v2h-1zM207 575h1v1h-1zM208 573h1v2h-1zM209 572h1v1h-1zM210 570h1v2h-1zM211 568h1v2h-1zM212 567h1v1h-1zM213 565h1v2h-1zM214 564h1v1h-1zM215 563h1v1h-1zM216 561h1v2h-1zM217 560h1v1h-1zM218 559h1v1h-1zM219 558h1v1h-1zM220 557h1v1h-1zM221 555h1v2h-1zM222 554h1v1h-1zM223 553h1v1h-1zM224 552h2v1h-2zM226 551h1v1h-1zM227 550h1v1h-1zM228 549h2v1h-2zM230 548h1v1h-1zM231 547h3v1h-3zM234 546h5v1h-5zM239 547h5v1h-5zM244 548h5v1h-5zM249 549h6v1h-6zM255 550h8v1h-8zM263 551h5v1h-5zM268 552h4v1h-4zM272 553h3v1h-3zM275 554h4v1h-4zM279 555h5v1h-5zM284 556h8v1h-8zM292 557h6v1h-6zM298 556h6v1h-6zM304 555h3v1h-3zM307 554h1v1h-1zM308 553h1v1h-1zM309 552h1v1h-1zM310 551h1v1h-1zM311 550h2v1h-2zM313 549h1v1h-1zM314 548h1v1h-1zM315 547h1v1h-1zM316 546h1v1h-1zM317 545h1v1h-1zM318 544h1v1h-1zM319 542h1v2h-1zM320 541h1v1h-1zM321 540h1v1h-1zM322 538h1v2h-1zM323 537h1v1h-1zM324 536h1v1h-1zM325 534h1v2h-1zM326 533h1v1h-1zM327 532h1v1h-1zM328 531h1v1h-1zM329 530h1v1h-1zM330 529h1v1h-1zM331 528h1v1h-1zM332 526h1v2h-1zM333 525h1v1h-1zM334 524h1v1h-1zM335 523h1v1h-1zM336 522h1v1h-1zM337 521h1v1h-1zM338 520h1v1h-1zM339 519h1v1h-1zM340 518h1v1h-1zM341 517h1v1h-1zM342 516h1v1h-1zM343 514h1v2h-1zM344 513h1v1h-1zM345 512h1v1h-1zM346 511h1v1h-1zM347 510h1v1h-1zM348 509h1v1h-1zM349 508h1v1h-1zM350 507h2v1h-2zM352 506h1v1h-1zM353 505h1v1h-1zM354 504h2v1h-2zM356 503h1v1h-1zM357 502h2v1h-2zM359 501h4v1h-4zM363 500h4v1h-4zM367 499h4v1h-4zM371 498h4v1h-4zM375 497h4v1h-4zM379 496h4v1h-4zM383 495h19v1h-19zM402 496h2v1h-2zM404 497h2v1h-2zM406 498h2v1h-2zM408 499h2v1h-2zM410 500h2v1h-2zM412 501h2v1h-2zM414 502h2v1h-2zM416 503h2v1h-2zM418 504h2v1h-2zM420 505h2v1h-2zM422 506h1v1h-1zM423 507h1v1h-1zM424 508h2v1h-2zM426 509h1v1h-1zM427 510h1v1h-1zM428 511h2v1h-2zM430 512h2v1h-2zM432 513h2v1h-2zM434 514h2v1h-2zM436 515h2v1h-2zM438 516h23v1h-23zM461 517h8v1h-8zM469 518h15v1h-15zM484 519h2v1h-2zM486 520h1v1h-1zM487 521h2v1h-2zM489 522h1v1h-1zM490 523h1v1h-1zM491 524h1v1h-1zM492 525h1v1h-1zM493 526h1v1h-1zM494 527h1v2h-1zM495 529h1v1h-1zM496 530h1v1h-1zM497 531h1v1h-1zM498 532h1v1h-1zM499 533h1v1h-1zM500 534h2v1h-2zM502 535h1v1h-1zM503 536h1v1h-1zM504 537h2v1h-2zM506 538h1v1h-1zM507 539h12v1h-12zM519 540h18v1h-18zM537 539h10v1h-10zM547 538h7v1h-7zM554 537h5v1h-5zM559 536h2v1h-2zM561 535h3v1h-3zM564 534h2v1h-2zM566 533h2v1h-2zM568 532h1v1h-1zM569 531h2v1h-2zM571 530h1v1h-1zM572 529h1v1h-1zM573 528h2v1h-2zM575 527h1v1h-1zM576 526h2v1h-2zM578 525h2v1h-2zM580 524h2v1h-2zM582 523h2v1h-2zM584 522h2v1h-2zM586 521h2v1h-2zM588 520h1v1h-1zM589 519h1v1h-1zM590 518h1v1h-1zM591 517h1v1h-1zM592 516h1v1h-1zM593 515h1v1h-1zM594 514h1v1h-1zM595 513h1v1h-1zM596 512h1v1h-1zM597 511h1v1h-1zM598 510h1v1h-1zM599 509h1v1h-1zM600 508h1v1h-1zM601 507h1v1h-1zM602 506h1v1h-1zM603 505h1v1h-1zM604 504h2v1h-2zM606 503h2v1h-2zM608 502h2v1h-2zM610 501h2v1h-2zM612 500h1v1h-1zM613 498h1v2h-1zM614 497h1v1h-1zM615 496h1v1h-1zM616 495h1v1h-1zM617 493h1v2h-1zM618 492h1v1h-1zM619 491h1v1h-1zM620 490h1v1h-1zM621 488h1v2h-1zM622 487h1v1h-1zM623 486h1v1h-1zM624 484h1v2h-1zM625 483h1v1h-1zM626 481h1v2h-1zM627 480h1v1h-1zM628 479h1v1h-1zM629 477h1v2h-1zM630 476h1v1h-1zM631 474h1v2h-1zM632 473h1v1h-1zM633 471h1v2h-1zM634 470h1v1h-1zM635 469h1v1h-1zM636 467h1v2h-1zM637 466h1v1h-1zM638 465h1v1h-1zM639 463h1v2h-1zM640 462h1v1h-1zM641 461h1v1h-1zM642 459h1v2h-1zM643 458h16v1h-16zM659 459h8v1h-8zM667 458h3v1h-3zM670 457h3v1h-3zM673 456h3v1h-3zM676 455h4v1h-4zM680 454h3v1h-3zM683 453h4v1h-4zM687 452h6v1h-6zM693 451h6v1h-6zM699 450h4v1h-4zM703 449h4v1h-4zM707 448h6v1h-6zM713 447h5v1h-5zM718 446h2v1h-2zM720 445h2v1h-2zM722 444h1v1h-1zM723 443h2v1h-2zM725 442h2v1h-2zM727 441h2v1h-2zM729 440h3v1h-3zM732 439h2v1h-2zM734 438h3v1h-3zM737 437h21v1h-21zM758 438h8v1h-8zM766 439h7v1h-7zM773 438h6v1h-6zM779 437h23v1h-23zM802 438h6v1h-6zM808 439h24v1h-24zM832 440h6v1h-6zM838 441h4v1h-4zM842 442h4v1h-4zM846 443h4v1h-4zM850 444h6v1h-6zM856 443h5v1h-5zM861 442h2v1h-2zM863 441h2v1h-2zM865 440h2v1h-2zM867 439h2v1h-2zM869 438h1v1h-1zM870 437h1v1h-1zM871 435h1v2h-1zM872 434h1v1h-1zM873 433h1v1h-1zM874 432h1v1h-1zM875 431h2v1h-2zM877 430h1v1h-1zM878 429h2v1h-2zM880 428h1v1h-1zM881 427h2v1h-2zM883 426h1v1h-1zM884 425h2v1h-2zM886 424h2v1h-2zM888 423h2v1h-2zM890 422h2v1h-2zM892 421h2v1h-2zM894 420h2v1h-2zM896 419h13v1h-13zM909 420h4v1h-4zM913 421h5v1h-5zM918 420h4v1h-4zM922 419h2v1h-2zM924 418h2v1h-2zM926 417h2v1h-2zM928 416h1v1h-1zM929 415h1v1h-1zM930 414h2v1h-2zM932 413h1v1h-1zM933 412h1v1h-1zM934 411h1v1h-1zM935 410h2v1h-2zM937 409h1v1h-1zM938 408h1v1h-1zM939 407h1v1h-1zM940 406h1v1h-1zM941 405h1v1h-1zM942 404h1v1h-1zM943 403h1v1h-1zM944 402h1v1h-1zM945 401h2v1h-2zM947 400h2v1h-2zM949 399h2v1h-2zM951 398h2v1h-2zM953 397h8v1h-8zM961 396h9v1h-9zM970 395h2v1h-2zM972 394h2v1h-2zM974 393h3v1h-3zM977 392h2v1h-2zM979 391h2v1h-2zM981 390h2v1h-2zM983 389h5v1h-5zM988 388h6v1h-6zM994 387h6v1h-6zM1000 386h7v1h-7zM1007 387h5v1h-5zM1012 386h2v1h-2zM1014 385h2v1h-2zM1016 384h2v1h-2zM1018 383h1v1h-1zM1019 382h2v1h-2zM1021 381h2v1h-2zM1023 380h2v1h-2zM1025 379h4v1h-4zM1029 378h6v1h-6zM1035 377h7v1h-7zM1042 376h8v1h-8zM1050 375h5v1h-5zM1055 374h2v1h-2zM1057 373h2v1h-2zM1059 372h3v1h-3zM1062 371h2v1h-2zM1064 370h2v1h-2zM1066 369h4v1h-4zM1070 370h6v1h-6zM1076 371h4v1h-4zM1080 372h3v1h-3zM1083 373h4v1h-4zM1087 374h3v1h-3zM1090 375h3v1h-3zM1093 374h2v1h-2zM1095 373h2v1h-2zM1097 372h2v1h-2zM1099 371h2v1h-2zM1101 370h1v1h-1zM1102 369h1v1h-1zM1103 368h1v1h-1zM1104 367h2v1h-2zM1106 366h1v1h-1zM1107 365h1v1h-1zM1108 364h1v1h-1zM1109 363h1v1h-1zM1110 362h1v1h-1zM1111 361h1v1h-1zM1112 360h2v1h-2zM1114 359h1v1h-1zM1115 358h1v1h-1zM1116 357h1v1h-1zM1117 356h1v1h-1zM1118 355h2v1h-2zM1120 354h2v1h-2zM1122 353h1v1h-1zM1123 352h2v1h-2zM1125 351h2v1h-2zM1127 350h1v1h-1zM1128 349h2v1h-2zM1130 348h2v1h-2zM1132 347h2v1h-2zM1134 346h4v1h-4zM1138 345h3v1h-3zM1141 344h17v1h-17zM1158 343h3v1h-3zM1161 341h1v2h-1zM1162 339h1v2h-1zM1163 338h1v1h-1zM1164 337h2v1h-2zM1166 336h2v1h-2zM1168 335h2v1h-2zM1170 334h1v1h-1zM1171 333h2v1h-2zM1173 332h2v1h-2zM1175 331h1v1h-1zM1176 330h2v1h-2zM1178 329h1v1h-1zM1179 328h2v1h-2zM1181 327h1v1h-1zM1182 326h2v1h-2zM1184 325h1v1h-1zM1185 324h2v1h-2zM1187 323h1v1h-1zM1188 322h2v1h-2zM1190 321h1v1h-1zM1191 320h2v1h-2zM1193 319h2v1h-2zM1195 318h1v1h-1zM1196 317h2v1h-2zM1198 316h1v1h-1zM1199 315h2v1h-2zM1201 314h2v1h-2zM1203 313h1v1h-1zM1204 312h2v1h-2zM1206 311h1v1h-1zM1207 310h2v1h-2zM1209 309h2v1h-2zM1211 308h1v1h-1zM1212 307h2v1h-2zM1214 306h1v1h-1zM1215 305h1v1h-1zM1216 304h2v1h-2zM1218 303h1v1h-1zM1219 302h2v1h-2zM1221 301h1v1h-1zM1222 300h1v1h-1zM1223 299h2v1h-2zM1225 298h1v1h-1zM1226 297h1v1h-1zM1227 296h2v1h-2zM1229 295h1v1h-1zM1230 294h2v1h-2zM1232 293h1v1h-1zM1233 292h1v1h-1zM1234 291h2v1h-2zM1236 290h1v1h-1zM1237 289h1v1h-1zM1238 288h2v1h-2zM1240 287h1v1h-1zM1241 286h1v1h-1zM1242 285h2v1h-2zM1244 284h1v1h-1zM1245 283h1v1h-1zM1246 282h2v1h-2zM1248 281h1v1h-1zM1249 280h1v1h-1zM1250 279h1v1h-1zM1251 278h2v1h-2zM1253 277h1v1h-1zM1254 276h1v1h-1zM1255 275h2v1h-2zM1257 274h1v1h-1zM1258 273h1v1h-1zM1259 272h2v1h-2zM1261 271h1v1h-1zM1262 270h1v1h-1zM1263 268h1v2h-1zM1264 266h1v2h-1zM1265 264h1v2h-1zM1266 262h1v2h-1zM1267 260h1v2h-1zM1268 258h1v2h-1zM1269 257h1v1h-1zM1270 255h1v2h-1zM1271 254h1v1h-1zM1272 253h1v1h-1zM1273 251h1v2h-1zM1274 250h1v1h-1zM1275 249h1v1h-1zM1276 247h1v2h-1zM1277 246h1v1h-1zM1278 245h1v1h-1zM1279 243h1v2h-1zM1280 242h1v1h-1zM1281 240h1v2h-1zM1282 238h1v2h-1zM1283 236h1v2h-1zM1284 234h1v2h-1zM1285 233h1v1h-1zM1286 231h1v2h-1zM1287 229h1v2h-1zM1288 227h1v2h-1zM1289 225h1v2h-1zM1290 224h1v1h-1zM1291 223h1v1h-1zM1292 221h1v2h-1zM1293 220h1v1h-1zM1294 219h1v1h-1zM1295 218h1v1h-1zM1296 217h1v1h-1zM1297 215h1v2h-1zM1298 214h1v1h-1zM1299 213h1v1h-1zM1300 212h1v1h-1zM1301 211h2v1h-2zM1303 210h1v1h-1zM1304 209h2v1h-2zM1306 208h5v1h-5zM1311 207h5v1h-5zM1316 206h2v1h-2zM1318 205h1v1h-1zM1319 204h1v1h-1zM1320 203h2v1h-2zM1322 202h1v1h-1zM1323 201h1v1h-1zM1324 200h2v1h-2zM1326 199h2v1h-2zM1328 198h2v1h-2zM1330 197h2v1h-2zM1332 196h2v1h-2zM1334 195h2v1h-2zM1336 194h2v1h-2zM1338 193h1v1h-1zM1339 192h1v1h-1zM1340 191h1v1h-1zM1341 190h1v1h-1zM1342 189h1v1h-1zM1343 188h2v1h-2zM1345 187h1v1h-1zM1346 186h1v1h-1zM1347 185h1v1h-1zM1348 184h1v1h-1zM1349 183h1v1h-1zM1350 182h1v1h-1zM1351 181h2v1h-2zM1353 180h1v1h-1zM1354 179h1v1h-1zM1355 178h2v1h-2zM1357 177h1v1h-1zM1358 176h2v1h-2zM1360 175h3v1h-3zM1363 174h3v1h-3zM1366 173h3v1h-3zM1369 172h2v1h-2zM1371 171h2v1h-2zM1373 170h2v1h-2zM1375 169h2v1h-2zM1377 168h2v1h-2zM1379 167h2v1h-2zM1381 166h2v1h-2zM1383 165h2v1h-2zM1385 164h2v1h-2zM1387 163h2v1h-2zM1389 162h2v1h-2zM1391 161h2v1h-2zM1393 160h4v1h-4zM1397 159h4v1h-4zM1401 158h4v1h-4zM1405 157h4v1h-4zM1409 156h2v1h-2z" fill="#3cb371" shape-rendering="crispEdges"/>
<g shape-rendering="crispEdges">
<path d="M3.5 358V362M11.5 329V371M19.5 312V349M27.5 331V357M35.5 336V372M43.5 345V382M51.5 360V364M59.5 357V395M67.5 385V461M75.5 426V469M83.5 426V500M91.5 473V500M99.5 490V492M107.5 473V495M115.5 477V504M123.5 476V500M131.5 484V527M139.5 484V516M147.5 508V513M155.5 506V554M163.5 531V567M171.5 525V564M179.5 523V552M187.5 519V546M195.5 521V523M203.5 482V532M211.5 481V504M219.5 474V511M227.5 462V506M235.5 478V514M243.5 476V479M251.5 451V483M259.5 450V492M267.5 462V490M275.5 451V471M283.5 442V468M291.5 443V447M299.5 443V457M307.5 441V479M315.5 453V498M323.5 457V495M331.5 477V505M339.5 481V485M347.5 455V483M355.5 461V480M363.5 444V475M371.5 446V464M379.5 454V480M387.5 471V475M395.5 460V481M403.5 473V485M411.5 482V519M419.5 490V525M427.5 494V531M435.5 503V512M443.5 503V519M451.5 452V511M459.5 453V511M467.5 480V514M475.5 483V503M483.5 485V492M491.5 412V488M499.5 389V432M507.5 376V405M515.5 399V443M523.5 422V449M531.5 425V438M539.5 413V445M547.5 426V441M555.5 431V445M563.5 436V458M571.5 434V450M579.5 432V437M587.5 401V435M595.5 387V407M603.5 387V410M611.5 389V412M619.5 404V428M627.5 413V421M635.5 397V426M643.5 375V411M651.5 371V413M659.5 376V397M667.5 365V399M675.5 386V391M683.5 389V439M691.5 400V426M699.5 375V406M707.5 392V427M715.5 419V468M723.5 418V428M731.5 398V429M739.5 393V429M747.5 382V407M755.5 372V395M763.5 375V402M771.5 411V424M779.5 396V464M787.5 406V437M795.5 375V423M803.5 351V387M811.5 370V377M819.5 368V398M827.5 379V394M835.5 366V392M843.5 350V375M851.5 349V360M859.5 350V392M867.5 379V397M875.5 368V391M883.5 357V381M891.5 347V365M899.5 360V368M907.5 359V375M915.5 330V364M923.5 324V344M931.5 324V341M939.5 328V358M947.5 353V360M955.5 355V375M963.5 336V362M971.5 322V356M979.5 325V347M987.5 325V344M995.5 329V333M1003.5 322V341M1011.5 319V349M1019.5 309V326M1027.5 298V326M1035.5 279V304M1043.5 289V295M1051.5 275V298M1059.5 284V301M1067.5 286V301M1075.5 269V309M1083.5 255V271M1091.5 257V263M1099.5 253V268M1107.5 261V278M1115.5 250V269M1123.5 254V264M1131.5 239V266M1139.5 232V243M1147.5 209V235M1155.5 184V212M1163.5 190V215M1171.5 178V212M1179.5 169V193M1187.5 171V180M1195.5 165V186M1203.5 155V183M1211.5 119V157M1219.5 109V161M1227.5 145V188M1235.5 151V164M1243.5 139V163M1251.5 141V171M1259.5 128V150M1267.5 101V146M1275.5 111V135M1283.5 112V123M1291.5 102V122M1299.5 87V108M1307.5 89V103M1315.5 70V95M1323.5 62V89M1331.5 67V73M1339.5 65V90M1347.5 73V100M1355.5 62V85M1363.5 53V83M1371.5 76V106M1379.5 102V106M1387.5 96V112M1395.5 100V150M1403.5 135V160M1411.5 119V150" stroke="#000" stroke-width="1" fill="none"/>
<path d="M1 358h5V359h-5zM25 333h5V338h-5zM33 337h5V365h-5zM49 361h5V362h-5zM57 362h5V387h-5zM65 386h5V453h-5zM81 434h5V491h-5zM89 489h5V497h-5zM97 490h5V492h-5zM105 490h5V492h-5zM113 492h5V494h-5zM129 484h5V492h-5zM137 492h5V512h-5zM145 510h5V512h-5zM153 510h5V537h-5zM161 536h5V545h-5zM169 544h5V545h-5zM185 528h5V530h-5zM225 484h5V488h-5zM241 477h5V478h-5zM257 453h5V485h-5zM289 444h5V446h-5zM297 445h5V446h-5zM305 446h5V478h-5zM321 467h5V491h-5zM369 451h5V458h-5zM377 457h5V476h-5zM393 471h5V478h-5zM401 477h5V483h-5zM409 482h5V503h-5zM417 502h5V509h-5zM433 506h5V511h-5zM457 457h5V505h-5zM473 485h5V493h-5zM505 394h5V400h-5zM513 399h5V439h-5zM521 438h5V440h-5zM537 426h5V431h-5zM545 430h5V434h-5zM553 433h5V445h-5zM561 445h5V449h-5zM609 390h5V405h-5zM617 404h5V426h-5zM649 384h5V394h-5zM657 392h5V394h-5zM673 388h5V390h-5zM681 389h5V413h-5zM705 399h5V422h-5zM713 421h5V448h-5zM721 423h5V425h-5zM761 384h5V397h-5zM769 415h5V419h-5zM785 410h5V418h-5zM817 370h5V393h-5zM857 350h5V385h-5zM865 384h5V386h-5zM897 363h5V366h-5zM921 336h5V340h-5zM937 329h5V356h-5zM953 356h5V361h-5zM969 337h5V344h-5zM985 328h5V329h-5zM1001 329h5V334h-5zM1017 321h5V322h-5zM1041 289h5V294h-5zM1049 292h5V293h-5zM1057 292h5V293h-5zM1065 292h5V297h-5zM1097 257h5V263h-5zM1105 263h5V265h-5zM1121 260h5V261h-5zM1161 190h5V206h-5zM1193 172h5V180h-5zM1217 124h5V148h-5zM1225 148h5V155h-5zM1241 151h5V153h-5zM1273 121h5V122h-5zM1321 71h5V72h-5zM1337 68h5V77h-5zM1345 75h5V79h-5zM1361 63h5V77h-5zM1369 77h5V93h-5zM1377 102h5V105h-5zM1393 100h5V147h-5zM1401 145h5V150h-5z" fill="#000"/>
<path d="M9.5 340.5h4V358.5h-4zM17.5 333.5h4V339.5h-4zM41.5 353.5h4V364.5h-4zM73.5 434.5h4V452.5h-4zM121.5 484.5h4V493.5h-4zM177.5 529.5h4V543.5h-4zM193.5 521.5h4V523.5h-4zM201.5 495.5h4V521.5h-4zM209.5 491.5h4V494.5h-4zM217.5 484.5h4V490.5h-4zM233.5 481.5h4V488.5h-4zM249.5 453.5h4V477.5h-4zM265.5 465.5h4V485.5h-4zM273.5 458.5h4V465.5h-4zM281.5 443.5h4V456.5h-4zM313.5 467.5h4V477.5h-4zM329.5 481.5h4V490.5h-4zM337.5 481.5h4V484.5h-4zM345.5 474.5h4V481.5h-4zM353.5 472.5h4V474.5h-4zM361.5 450.5h4V471.5h-4zM385.5 471.5h4V474.5h-4zM425.5 498.5h4V508.5h-4zM441.5 506.5h4V508.5h-4zM449.5 458.5h4V505.5h-4zM465.5 485.5h4V504.5h-4zM481.5 486.5h4V489.5h-4zM489.5 424.5h4V486.5h-4zM497.5 394.5h4V423.5h-4zM529.5 426.5h4V436.5h-4zM569.5 440.5h4V448.5h-4zM577.5 433.5h4V435.5h-4zM585.5 402.5h4V433.5h-4zM593.5 393.5h4V402.5h-4zM601.5 390.5h4V392.5h-4zM625.5 416.5h4V419.5h-4zM633.5 407.5h4V415.5h-4zM641.5 384.5h4V407.5h-4zM665.5 385.5h4V391.5h-4zM689.5 405.5h4V412.5h-4zM697.5 399.5h4V405.5h-4zM729.5 420.5h4V424.5h-4zM737.5 400.5h4V420.5h-4zM745.5 392.5h4V399.5h-4zM753.5 384.5h4V391.5h-4zM777.5 411.5h4V417.5h-4zM793.5 386.5h4V417.5h-4zM801.5 373.5h4V386.5h-4zM809.5 370.5h4V376.5h-4zM825.5 389.5h4V392.5h-4zM833.5 369.5h4V388.5h-4zM841.5 357.5h4V368.5h-4zM849.5 350.5h4V359.5h-4zM873.5 375.5h4V385.5h-4zM881.5 361.5h4V374.5h-4zM889.5 360.5h4V362.5h-4zM905.5 362.5h4V365.5h-4zM913.5 336.5h4V362.5h-4zM929.5 328.5h4V337.5h-4zM945.5 356.5h4V358.5h-4zM961.5 337.5h4V360.5h-4zM977.5 328.5h4V343.5h-4zM993.5 329.5h4V332.5h-4zM1009.5 321.5h4V332.5h-4zM1025.5 300.5h4V320.5h-4zM1033.5 291.5h4V299.5h-4zM1073.5 269.5h4V296.5h-4zM1081.5 258.5h4V268.5h-4zM1089.5 257.5h4V262.5h-4zM1113.5 261.5h4V265.5h-4zM1129.5 243.5h4V260.5h-4zM1137.5 233.5h4V241.5h-4zM1145.5 209.5h4V233.5h-4zM1153.5 190.5h4V208.5h-4zM1169.5 184.5h4V204.5h-4zM1177.5 177.5h4V183.5h-4zM1185.5 172.5h4V178.5h-4zM1201.5 155.5h4V180.5h-4zM1209.5 123.5h4V155.5h-4zM1233.5 153.5h4V162.5h-4zM1249.5 148.5h4V150.5h-4zM1257.5 146.5h4V148.5h-4zM1265.5 121.5h4V144.5h-4zM1281.5 117.5h4V122.5h-4zM1289.5 106.5h4V116.5h-4zM1297.5 100.5h4V105.5h-4zM1305.5 92.5h4V100.5h-4zM1313.5 71.5h4V91.5h-4zM1329.5 68.5h4V70.5h-4zM1353.5 63.5h4V78.5h-4zM1385.5 100.5h4V104.5h-4zM1409.5 123.5h4V149.5h-4z" fill="#fff" stroke="#000" stroke-width="1"/>
</g>
<rect x="1290" y="127" width="162" height="6" fill="#00f000" shape-rendering="crispEdges"/>
<g shape-rendering="crispEdges">
<path d="M3.5 633V675M11.5 627V675M19.5 624V675M27.5 622V675M35.5 625V675M43.5 627V675M51.5 630V675M59.5 637V675M67.5 653V675M75.5 663V675M83.5 675V678M91.5 675V692M99.5 675V702M107.5 675V710M115.5 675V716M123.5 675V719M131.5 675V721M139.5 675V726M147.5 675V729M155.5 675V735M163.5 675V740M171.5 675V743M179.5 675V741M187.5 675V741M195.5 675V737M203.5 675V731M211.5 675V724M219.5 675V716M227.5 675V711M235.5 675V706M243.5 675V701M251.5 675V692M259.5 675V691M267.5 675V686M275.5 675V681M291.5 672V675M299.5 668V675M307.5 671V675M315.5 671V675M323.5 674V675M387.5 675V676M411.5 675V679M419.5 675V685M427.5 675V686M435.5 675V689M443.5 675V692M451.5 675V685M459.5 675V686M467.5 675V685M475.5 675V685M483.5 675V683M499.5 662V675M507.5 652V675M515.5 652V675M523.5 651V675M531.5 649V675M539.5 649V675M547.5 649V675M555.5 651V675M563.5 654V675M571.5 655V675M579.5 655V675M587.5 651V675M595.5 645V675M603.5 642V675M611.5 641V675M619.5 645V675M627.5 646V675M635.5 646V675M643.5 643V675M651.5 643V675M659.5 642V675M667.5 641V675M675.5 642V675M683.5 646V675M691.5 648V675M699.5 650V675M707.5 655V675M715.5 663V675M723.5 666V675M731.5 667V675M739.5 666V675M747.5 663V675M755.5 660V675M763.5 660V675M771.5 663V675M779.5 665V675M787.5 667V675M795.5 665V675M803.5 660V675M811.5 657V675M819.5 658V675M827.5 658V675M835.5 656V675M843.5 652V675M851.5 648V675M859.5 651V675M867.5 654V675M875.5 653V675M883.5 653V675M891.5 652V675M899.5 651V675M907.5 651V675M915.5 648V675M923.5 646V675M931.5 643V675M939.5 646V675M947.5 649V675M955.5 651V675M963.5 649V675M971.5 650V675M979.5 648V675M987.5 647V675M995.5 647V675M1003.5 647V675M1011.5 646V675M1019.5 647V675M1027.5 642V675M1035.5 639V675M1043.5 637V675M1051.5 635V675M1059.5 635V675M1067.5 635V675M1075.5 632V675M1083.5 628V675M1091.5 626V675M1099.5 625V675M1107.5 626V675M1115.5 626V675M1123.5 627V675M1131.5 625V675M1139.5 623V675M1147.5 618V675M1155.5 612V675M1163.5 610V675M1171.5 607V675M1179.5 603V675M1187.5 601V675M1195.5 601V675M1203.5 598V675M1211.5 591V675M1219.5 591V675M1227.5 593V675M1235.5 595V675M1243.5 597V675M1251.5 600V675M1259.5 602V675M1267.5 601V675M1275.5 601V675M1283.5 601V675M1291.5 600V675M1299.5 599V675M1307.5 598V675M1315.5 595V675M1323.5 594V675M1331.5 593V675M1339.5 595V675M1347.5 598V675M1355.5 598V675M1363.5 603V675M1371.5 609V675M1379.5 617V675M1387.5 625V675M1395.5 633V675M1403.5 643V675M1411.5 648V675" stroke="#c0c0c0" stroke-width="1" fill="none"/>
</g>
<path d="M0 635h3v1h-3zM6 635h3v1h-3zM12 635h2v1h-2zM14 634h1v1h-1zM18 633h3v1h-3zM24 632h3v1h-3zM30 631h3v1h-3zM36 630h3v1h-3zM42 629h3v1h-3zM48 628h3v1h-3zM54 628h3v1h-3zM60 628h3v1h-3zM66 629h1v1h-1zM67 630h2v1h-2zM72 631h1v1h-1zM73 632h2v1h-2zM78 634h1v1h-1zM79 635h1v1h-1zM80 636h1v1h-1zM84 639h1v1h-1zM85 640h1v1h-1zM86 641h1v1h-1zM90 645h1v1h-1zM91 646h1v1h-1zM92 647h1v1h-1zM96 651h1v2h-1zM97 653h1v1h-1zM101 657h1v1h-1zM102 658h1v2h-1zM106 663h1v2h-1zM107 665h1v1h-1zM110 669h1v1h-1zM111 670h1v1h-1zM112 671h1v1h-1zM115 675h1v2h-1zM116 677h1v1h-1zM120 681h1v2h-1zM121 683h1v1h-1zM125 687h1v1h-1zM126 688h1v1h-1zM127 689h1v1h-1zM130 693h1v1h-1zM131 694h1v1h-1zM132 695h1v1h-1zM136 699h1v1h-1zM137 700h1v1h-1zM138 701h1v1h-1zM142 705h1v1h-1zM143 706h1v1h-1zM144 707h1v1h-1zM148 711h1v1h-1zM149 712h1v1h-1zM150 713h1v1h-1zM154 716h2v1h-2zM156 717h1v1h-1zM160 719h2v1h-2zM162 720h1v1h-1zM166 721h1v1h-1zM167 722h2v1h-2zM172 724h1v1h-1zM173 725h1v1h-1zM174 726h1v1h-1zM178 728h1v1h-1zM179 729h2v1h-2zM184 731h2v1h-2zM186 732h1v1h-1zM190 733h2v1h-2zM192 734h1v1h-1zM196 735h3v1h-3zM202 736h3v1h-3zM208 736h3v1h-3zM214 736h1v1h-1zM215 735h2v1h-2zM220 734h1v1h-1zM221 733h2v1h-2zM226 732h1v1h-1zM227 731h2v1h-2zM232 729h2v1h-2zM234 728h1v1h-1zM238 726h1v1h-1zM239 725h2v1h-2zM244 722h2v1h-2zM246 721h1v1h-1zM250 718h1v1h-1zM251 717h2v1h-2zM256 714h1v1h-1zM257 713h1v1h-1zM258 712h1v1h-1zM262 709h1v1h-1zM263 708h2v1h-2zM268 705h2v1h-2zM270 704h1v1h-1zM274 702h1v1h-1zM275 701h1v1h-1zM276 700h1v1h-1zM280 698h1v1h-1zM281 697h1v1h-1zM282 696h1v1h-1zM286 693h1v1h-1zM287 692h2v1h-2zM292 689h2v1h-2zM294 688h1v1h-1zM298 686h2v1h-2zM300 685h1v1h-1zM304 683h2v1h-2zM306 682h1v1h-1zM310 680h1v1h-1zM311 679h2v1h-2zM316 678h2v1h-2zM318 677h1v1h-1zM322 676h2v1h-2zM324 675h1v1h-1zM328 674h3v1h-3zM334 673h3v1h-3zM340 673h3v1h-3zM346 673h3v1h-3zM352 673h3v1h-3zM358 673h3v1h-3zM364 673h3v1h-3zM370 673h3v1h-3zM376 673h3v1h-3zM382 674h3v1h-3zM388 674h3v1h-3zM394 674h3v1h-3zM400 674h3v1h-3zM406 674h3v1h-3zM412 674h3v1h-3zM418 675h3v1h-3zM424 676h3v1h-3zM430 678h3v1h-3zM436 679h2v1h-2zM438 680h1v1h-1zM442 681h3v1h-3zM448 682h3v1h-3zM454 683h3v1h-3zM460 684h3v1h-3zM466 685h3v1h-3zM472 686h3v1h-3zM478 686h1v1h-1zM479 687h2v1h-2zM484 687h3v1h-3zM490 686h2v1h-2zM492 685h1v1h-1zM496 684h1v1h-1zM497 683h2v1h-2zM502 681h2v1h-2zM504 680h1v1h-1zM508 678h2v1h-2zM510 677h1v1h-1zM514 675h1v1h-1zM515 674h2v1h-2zM520 672h1v1h-1zM521 671h2v1h-2zM526 669h1v1h-1zM527 668h2v1h-2zM532 665h2v1h-2zM534 664h1v1h-1zM538 661h1v1h-1zM539 660h2v1h-2zM544 658h2v1h-2zM546 657h1v1h-1zM550 656h1v1h-1zM551 655h2v1h-2zM556 653h1v1h-1zM557 652h2v1h-2zM562 651h3v1h-3zM568 651h1v1h-1zM569 650h2v1h-2zM574 650h2v1h-2zM576 651h1v1h-1zM580 651h2v1h-2zM582 650h1v1h-1zM586 650h3v1h-3zM592 649h3v1h-3zM598 649h2v1h-2zM600 648h1v1h-1zM604 648h3v1h-3zM610 648h3v1h-3zM616 648h3v1h-3zM622 648h3v1h-3zM628 647h3v1h-3zM634 646h3v1h-3zM640 645h3v1h-3zM646 644h3v1h-3zM652 644h2v1h-2zM654 643h1v1h-1zM658 642h3v1h-3zM664 642h3v1h-3zM670 642h3v1h-3zM676 642h3v1h-3zM682 642h1v1h-1zM683 643h2v1h-2zM688 643h3v1h-3zM694 643h3v1h-3zM700 644h3v1h-3zM706 645h3v1h-3zM712 646h2v1h-2zM714 647h1v1h-1zM718 647h1v1h-1zM719 648h2v1h-2zM724 649h3v1h-3zM730 651h2v1h-2zM732 652h1v1h-1zM736 654h2v1h-2zM738 655h1v1h-1zM742 656h3v1h-3zM748 657h1v1h-1zM749 658h2v1h-2zM754 659h3v1h-3zM760 660h3v1h-3zM766 660h3v1h-3zM772 661h2v1h-2zM774 662h1v1h-1zM778 663h3v1h-3zM784 663h3v1h-3zM790 663h3v1h-3zM796 663h3v1h-3zM802 662h3v1h-3zM808 661h3v1h-3zM814 661h3v1h-3zM820 661h3v1h-3zM826 661h3v1h-3zM832 660h3v1h-3zM838 660h2v1h-2zM840 659h1v1h-1zM844 659h2v1h-2zM846 658h1v1h-1zM850 657h3v1h-3zM856 655h3v1h-3zM862 654h3v1h-3zM868 654h3v1h-3zM874 653h3v1h-3zM880 653h3v1h-3zM886 652h3v1h-3zM892 652h3v1h-3zM898 651h3v1h-3zM904 651h3v1h-3zM910 651h3v1h-3zM916 651h3v1h-3zM922 650h3v1h-3zM928 650h2v1h-2zM930 649h1v1h-1zM934 649h3v1h-3zM940 649h1v1h-1zM941 648h2v1h-2zM946 648h3v1h-3zM952 648h3v1h-3zM958 648h3v1h-3zM964 647h3v1h-3zM970 647h3v1h-3zM976 647h3v1h-3zM982 647h1v1h-1zM983 646h2v1h-2zM988 646h3v1h-3zM994 647h3v1h-3zM1000 647h3v1h-3zM1006 647h3v1h-3zM1012 647h3v1h-3zM1018 647h3v1h-3zM1024 647h1v1h-1zM1025 646h2v1h-2zM1030 646h1v1h-1zM1031 645h2v1h-2zM1036 644h3v1h-3zM1042 643h2v1h-2zM1044 642h1v1h-1zM1048 642h3v1h-3zM1054 641h3v1h-3zM1060 640h3v1h-3zM1066 640h1v1h-1zM1067 639h2v1h-2zM1072 639h1v1h-1zM1073 638h2v1h-2zM1078 637h3v1h-3zM1084 636h1v1h-1zM1085 635h2v1h-2zM1090 634h2v1h-2zM1092 633h1v1h-1zM1096 632h3v1h-3zM1102 631h3v1h-3zM1108 630h1v1h-1zM1109 629h2v1h-2zM1114 629h2v1h-2zM1116 628h1v1h-1zM1120 628h3v1h-3zM1126 627h3v1h-3zM1132 627h1v1h-1zM1133 626h2v1h-2zM1138 626h1v1h-1zM1139 625h2v1h-2zM1144 624h3v1h-3zM1150 623h1v1h-1zM1151 622h2v1h-2zM1156 621h3v1h-3zM1162 620h3v1h-3zM1168 619h3v1h-3zM1174 617h3v1h-3zM1180 615h3v1h-3zM1186 613h1v1h-1zM1187 612h2v1h-2zM1192 610h2v1h-2zM1194 609h1v1h-1zM1198 608h2v1h-2zM1200 607h1v1h-1zM1204 607h1v1h-1zM1205 606h2v1h-2zM1210 605h1v1h-1zM1211 604h2v1h-2zM1216 602h1v1h-1zM1217 601h2v1h-2zM1222 599h3v1h-3zM1228 598h1v1h-1zM1229 597h2v1h-2zM1234 596h3v1h-3zM1240 595h3v1h-3zM1246 595h3v1h-3zM1252 595h3v1h-3zM1258 595h3v1h-3zM1264 595h3v1h-3zM1270 595h2v1h-2zM1272 596h1v1h-1zM1276 596h3v1h-3zM1282 597h3v1h-3zM1288 598h3v1h-3zM1294 598h3v1h-3zM1300 598h3v1h-3zM1306 598h3v1h-3zM1312 598h3v1h-3zM1318 598h3v1h-3zM1324 598h3v1h-3zM1330 597h3v1h-3zM1336 597h1v1h-1zM1337 596h2v1h-2zM1342 596h3v1h-3zM1348 596h3v1h-3zM1354 596h3v1h-3zM1360 596h3v1h-3zM1366 596h3v1h-3zM1372 597h3v1h-3zM1378 598h1v1h-1zM1379 599h2v1h-2zM1384 601h2v1h-2zM1386 602h1v1h-1zM1390 603h1v1h-1zM1391 604h2v1h-2zM1396 606h1v1h-1zM1397 607h1v1h-1zM1398 608h1v1h-1zM1402 611h2v1h-2zM1404 612h1v1h-1zM1408 614h1v1h-1zM1409 615h1v1h-1zM1410 616h1v1h-1z" fill="#ff0000" shape-rendering="crispEdges"/>
<g shape-rendering="crispEdges">
<path d="M0 789.5H1682" stroke="#c0c0c0" stroke-width="1" stroke-dasharray="3 3" fill="none"/>
<path d="M0 840.5H1682" stroke="#c0c0c0" stroke-width="1" stroke-dasharray="3 3" fill="none"/>
<path d="M0 901.5H1682" stroke="#c0c0c0" stroke-width="1" stroke-dasharray="3 3" fill="none"/>
</g>
<path d="M0 812h1v1h-1zM1 811h2v1h-2zM3 810h1v1h-1zM4 809h2v1h-2zM6 808h1v1h-1zM7 807h1v1h-1zM8 806h2v1h-2zM10 805h1v1h-1zM11 804h3v1h-3zM14 803h4v1h-4zM18 802h4v1h-4zM22 803h4v1h-4zM26 804h2v1h-2zM27 805h1v1h-1zM28 806h1v2h-1zM29 808h1v3h-1zM30 811h1v2h-1zM31 813h1v3h-1zM32 816h1v2h-1zM33 818h1v3h-1zM34 821h1v2h-1zM35 823h1v2h-1zM36 823h2v1h-2zM38 822h2v1h-2zM40 821h1v1h-1zM41 820h2v1h-2zM43 819h1v1h-1zM44 820h2v1h-2zM46 821h1v1h-1zM47 822h1v1h-1zM48 823h2v1h-2zM50 824h1v1h-1zM51 825h1v1h-1zM52 826h1v2h-1zM53 828h1v2h-1zM54 830h1v2h-1zM55 832h1v1h-1zM56 833h1v2h-1zM57 835h1v2h-1zM58 837h1v2h-1zM59 839h1v2h-1zM60 841h1v3h-1zM61 844h1v3h-1zM62 847h1v3h-1zM63 850h1v4h-1zM64 854h1v3h-1zM65 857h1v3h-1zM66 860h1v3h-1zM67 863h1v2h-1zM68 863h1v1h-1zM69 862h1v1h-1zM70 861h1v1h-1zM71 859h1v2h-1zM72 858h1v1h-1zM73 857h1v1h-1zM74 856h1v1h-1zM75 855h1v1h-1zM76 856h1v2h-1zM77 858h1v2h-1zM78 860h1v2h-1zM79 862h1v2h-1zM80 864h1v2h-1zM81 866h1v2h-1zM82 868h1v2h-1zM83 870h5v1h-5zM88 871h5v1h-5zM93 870h3v1h-3zM96 869h2v1h-2zM98 868h6v1h-6zM104 869h12v1h-12zM116 868h2v1h-2zM118 867h2v1h-2zM120 866h1v1h-1zM121 865h2v1h-2zM123 864h3v1h-3zM126 865h4v1h-4zM130 866h2v1h-2zM132 867h2v1h-2zM134 868h1v1h-1zM135 869h1v1h-1zM136 870h2v1h-2zM138 871h1v1h-1zM139 872h5v1h-5zM144 871h4v1h-4zM148 872h2v1h-2zM150 873h1v1h-1zM151 874h1v1h-1zM152 875h2v1h-2zM154 876h1v1h-1zM155 877h2v1h-2zM157 878h3v1h-3zM160 879h2v1h-2zM162 880h10v1h-10zM172 878h1v2h-1zM173 877h1v1h-1zM174 876h1v1h-1zM175 874h1v2h-1zM176 873h1v1h-1zM177 872h1v1h-1zM178 870h1v2h-1zM179 869h5v1h-5zM184 870h4v1h-4zM188 869h2v1h-2zM190 868h1v1h-1zM191 867h1v1h-1zM192 866h2v1h-2zM194 865h1v1h-1zM195 864h1v1h-1zM196 862h1v2h-1zM197 860h1v2h-1zM198 858h1v2h-1zM199 856h1v2h-1zM200 854h1v2h-1zM201 852h1v2h-1zM202 850h1v2h-1zM203 849h2v1h-2zM205 848h3v1h-3zM208 847h2v1h-2zM210 846h3v1h-3zM213 845h3v1h-3zM216 844h2v1h-2zM218 843h4v1h-4zM222 844h4v1h-4zM226 845h3v1h-3zM229 844h2v1h-2zM231 843h2v1h-2zM233 842h2v1h-2zM235 841h3v1h-3zM238 840h4v1h-4zM242 839h2v1h-2zM244 837h1v2h-1zM245 836h1v1h-1zM246 834h1v2h-1zM247 833h1v1h-1zM248 831h1v2h-1zM249 830h1v1h-1zM250 828h1v2h-1zM251 827h1v2h-1zM252 829h1v2h-1zM253 831h1v2h-1zM254 833h1v2h-1zM255 835h1v2h-1zM256 837h1v2h-1zM257 839h1v2h-1zM258 841h1v2h-1zM259 843h1v2h-1zM260 843h1v1h-1zM261 842h1v1h-1zM262 841h1v1h-1zM263 839h1v2h-1zM264 838h1v1h-1zM265 837h1v1h-1zM266 836h1v1h-1zM267 835h1v1h-1zM268 834h2v1h-2zM270 833h2v1h-2zM272 832h1v1h-1zM273 831h2v1h-2zM275 830h2v1h-2zM277 829h2v1h-2zM279 828h2v1h-2zM281 827h2v1h-2zM283 826h5v1h-5zM288 827h12v1h-12zM299 828h1v1h-1zM300 829h1v2h-1zM301 831h1v2h-1zM302 833h1v2h-1zM303 835h1v2h-1zM304 837h1v2h-1zM305 839h1v2h-1zM306 841h1v2h-1zM307 843h1v2h-1zM308 843h2v1h-2zM310 842h2v1h-2zM312 841h1v1h-1zM313 840h2v1h-2zM315 839h1v1h-1zM316 840h1v1h-1zM317 841h1v2h-1zM318 843h1v1h-1zM319 844h1v1h-1zM320 845h1v1h-1zM321 846h1v2h-1zM322 848h1v1h-1zM323 849h2v1h-2zM325 848h2v1h-2zM327 847h2v1h-2zM329 846h2v1h-2zM331 845h10v1h-10zM341 844h2v1h-2zM343 843h2v1h-2zM345 842h2v1h-2zM347 841h5v1h-5zM352 840h4v1h-4zM356 838h1v2h-1zM357 837h1v1h-1zM358 836h1v1h-1zM359 834h1v2h-1zM360 833h1v1h-1zM361 832h1v1h-1zM362 830h1v2h-1zM363 829h2v1h-2zM365 830h3v1h-3zM368 831h2v1h-2zM370 832h2v1h-2zM372 833h1v2h-1zM373 835h1v1h-1zM374 836h1v1h-1zM375 837h1v2h-1zM376 839h1v1h-1zM377 840h1v1h-1zM378 841h1v2h-1zM379 843h3v1h-3zM382 842h4v1h-4zM386 841h3v1h-3zM389 842h3v1h-3zM392 843h2v1h-2zM394 844h3v1h-3zM397 845h3v1h-3zM400 846h2v1h-2zM402 847h2v1h-2zM404 848h1v1h-1zM405 849h1v2h-1zM406 851h1v1h-1zM407 852h1v1h-1zM408 853h1v1h-1zM409 854h1v2h-1zM410 856h1v1h-1zM411 857h2v1h-2zM413 858h3v1h-3zM416 859h2v1h-2zM418 860h2v1h-2zM420 859h1v1h-1zM421 858h1v1h-1zM422 857h1v1h-1zM423 856h1v1h-1zM424 855h1v1h-1zM425 854h1v1h-1zM426 853h1v1h-1zM427 852h1v1h-1zM428 853h2v1h-2zM430 854h1v1h-1zM431 855h1v1h-1zM432 856h2v1h-2zM434 857h1v1h-1zM435 858h2v1h-2zM437 857h3v1h-3zM440 856h2v1h-2zM442 855h2v1h-2zM443 854h1v1h-1zM444 851h1v3h-1zM445 847h1v4h-1zM446 844h1v3h-1zM447 841h1v3h-1zM448 838h1v3h-1zM449 834h1v4h-1zM450 831h1v3h-1zM451 829h1v2h-1zM451 830h1v1h-1zM452 831h1v2h-1zM453 833h1v3h-1zM454 836h1v3h-1zM455 839h1v2h-1zM456 841h1v3h-1zM457 844h1v3h-1zM458 847h1v2h-1zM459 849h1v2h-1zM460 849h1v1h-1zM461 848h1v1h-1zM462 847h1v1h-1zM463 846h1v1h-1zM464 845h1v1h-1zM465 844h1v1h-1zM466 843h1v1h-1zM467 842h2v1h-2zM469 843h3v1h-3zM472 844h2v1h-2zM474 845h3v1h-3zM477 844h3v1h-3zM480 843h2v1h-2zM482 842h2v1h-2zM483 841h1v1h-1zM484 838h1v3h-1zM485 836h1v2h-1zM486 833h1v3h-1zM487 830h1v3h-1zM488 827h1v3h-1zM489 825h1v2h-1zM490 822h1v3h-1zM491 820h1v2h-1zM492 819h1v1h-1zM493 818h1v1h-1zM494 817h2v1h-2zM496 816h1v1h-1zM497 815h1v1h-1zM498 814h1v1h-1zM499 813h3v1h-3zM502 814h4v1h-4zM506 815h2v1h-2zM508 816h1v2h-1zM509 818h1v2h-1zM510 820h1v2h-1zM511 822h1v2h-1zM512 824h1v2h-1zM513 826h1v2h-1zM514 828h1v2h-1zM515 830h3v1h-3zM518 831h4v1h-4zM522 832h2v1h-2zM524 831h2v1h-2zM526 830h2v1h-2zM528 829h1v1h-1zM529 828h2v1h-2zM531 827h3v1h-3zM534 828h4v1h-4zM538 829h4v1h-4zM542 830h4v1h-4zM546 831h3v1h-3zM549 832h2v1h-2zM551 833h2v1h-2zM553 834h2v1h-2zM555 835h3v1h-3zM558 836h4v1h-4zM562 837h3v1h-3zM565 836h3v1h-3zM568 835h2v1h-2zM570 834h3v1h-3zM573 833h3v1h-3zM576 832h2v1h-2zM578 831h2v1h-2zM580 829h1v2h-1zM581 828h1v1h-1zM582 827h1v1h-1zM583 825h1v2h-1zM584 824h1v1h-1zM585 823h1v1h-1zM586 821h1v2h-1zM587 820h2v1h-2zM589 819h3v1h-3zM592 818h2v1h-2zM594 817h6v1h-6zM600 816h4v1h-4zM604 817h1v1h-1zM605 818h1v1h-1zM606 819h1v1h-1zM607 820h1v1h-1zM608 821h1v1h-1zM609 822h1v1h-1zM610 823h1v1h-1zM611 824h1v1h-1zM612 825h1v2h-1zM613 827h1v1h-1zM614 828h1v1h-1zM615 829h1v2h-1zM616 831h1v1h-1zM617 832h1v1h-1zM618 833h1v2h-1zM619 835h1v1h-1zM620 834h2v1h-2zM622 833h2v1h-2zM624 832h1v1h-1zM625 831h2v1h-2zM627 830h2v1h-2zM629 829h3v1h-3zM632 828h2v1h-2zM634 827h2v1h-2zM636 826h1v1h-1zM637 825h1v1h-1zM638 824h1v1h-1zM639 823h1v1h-1zM640 822h1v1h-1zM641 821h1v1h-1zM642 820h1v1h-1zM643 819h1v1h-1zM644 820h2v1h-2zM646 821h2v1h-2zM648 822h1v1h-1zM649 823h2v1h-2zM651 824h10v1h-10zM661 823h3v1h-3zM664 822h2v1h-2zM666 821h4v1h-4zM670 822h4v1h-4zM674 823h2v1h-2zM676 824h1v2h-1zM677 826h1v2h-1zM678 828h1v2h-1zM679 830h1v1h-1zM680 831h1v2h-1zM681 833h1v2h-1zM682 835h1v2h-1zM683 837h2v1h-2zM685 836h2v1h-2zM687 835h2v1h-2zM689 834h2v1h-2zM691 833h3v1h-3zM694 832h4v1h-4zM698 831h2v1h-2zM700 832h1v2h-1zM701 834h1v1h-1zM702 835h1v1h-1zM703 836h1v2h-1zM704 838h1v1h-1zM705 839h1v1h-1zM706 840h1v2h-1zM707 842h1v1h-1zM708 843h1v2h-1zM709 845h1v1h-1zM710 846h1v2h-1zM711 848h1v1h-1zM712 849h1v2h-1zM713 851h1v1h-1zM714 852h1v2h-1zM715 854h1v1h-1zM716 852h1v2h-1zM717 851h1v1h-1zM718 850h1v1h-1zM719 848h1v2h-1zM720 847h1v1h-1zM721 846h1v1h-1zM722 844h1v2h-1zM723 843h3v1h-3zM726 842h4v1h-4zM730 841h2v1h-2zM732 840h1v1h-1zM733 839h1v1h-1zM734 838h1v1h-1zM735 836h1v2h-1zM736 835h1v1h-1zM737 834h1v1h-1zM738 833h1v1h-1zM739 832h2v1h-2zM741 831h2v1h-2zM743 830h2v1h-2zM745 829h2v1h-2zM747 828h2v1h-2zM749 827h3v1h-3zM752 826h2v1h-2zM754 825h2v1h-2zM756 826h2v1h-2zM758 827h1v1h-1zM759 828h1v1h-1zM760 829h2v1h-2zM762 830h1v1h-1zM763 831h1v1h-1zM764 832h1v2h-1zM765 834h1v1h-1zM766 835h1v2h-1zM767 837h1v1h-1zM768 838h1v2h-1zM769 840h1v1h-1zM770 841h1v2h-1zM771 843h2v1h-2zM773 842h2v1h-2zM775 841h2v1h-2zM777 840h2v1h-2zM779 839h2v1h-2zM781 840h3v1h-3zM784 841h2v1h-2zM786 842h2v1h-2zM788 840h1v2h-1zM789 838h1v2h-1zM790 837h1v1h-1zM791 835h1v2h-1zM792 834h1v1h-1zM793 832h1v2h-1zM794 830h1v2h-1zM795 829h1v1h-1zM796 828h2v1h-2zM798 827h2v1h-2zM800 826h1v1h-1zM801 825h2v1h-2zM803 824h5v1h-5zM808 823h4v1h-4zM812 824h1v2h-1zM813 826h1v1h-1zM814 827h1v1h-1zM815 828h1v2h-1zM816 830h1v1h-1zM817 831h1v1h-1zM818 832h1v2h-1zM819 834h5v1h-5zM824 833h4v1h-4zM828 832h1v1h-1zM829 831h1v1h-1zM830 830h1v1h-1zM831 829h1v1h-1zM832 828h1v1h-1zM833 827h1v1h-1zM834 826h1v1h-1zM835 825h1v1h-1zM836 824h2v1h-2zM838 823h2v1h-2zM840 822h1v1h-1zM841 821h2v1h-2zM843 820h3v1h-3zM846 819h4v1h-4zM850 818h2v1h-2zM851 819h1v1h-1zM852 820h1v2h-1zM853 822h1v2h-1zM854 824h1v2h-1zM855 826h1v3h-1zM856 829h1v2h-1zM857 831h1v2h-1zM858 833h1v2h-1zM859 835h1v2h-1zM860 836h8v1h-8zM868 835h2v1h-2zM870 834h2v1h-2zM872 833h1v1h-1zM873 832h2v1h-2zM875 831h1v1h-1zM876 830h2v1h-2zM878 829h2v1h-2zM880 828h1v1h-1zM881 827h2v1h-2zM883 826h5v1h-5zM888 825h5v1h-5zM893 826h2v1h-2zM895 827h2v1h-2zM897 828h2v1h-2zM899 829h3v1h-3zM902 828h4v1h-4zM906 827h2v1h-2zM908 826h1v1h-1zM909 824h1v2h-1zM910 823h1v1h-1zM911 822h1v1h-1zM912 821h1v1h-1zM913 819h1v2h-1zM914 818h1v1h-1zM915 817h5v1h-5zM920 818h5v1h-5zM925 817h2v1h-2zM927 816h2v1h-2zM929 815h2v1h-2zM931 814h1v2h-1zM932 816h1v2h-1zM933 818h1v2h-1zM934 820h1v2h-1zM935 822h1v3h-1zM936 825h1v2h-1zM937 827h1v2h-1zM938 829h1v2h-1zM939 831h1v2h-1zM940 832h10v1h-10zM950 833h4v1h-4zM954 834h2v1h-2zM956 832h1v2h-1zM957 831h1v1h-1zM958 830h1v1h-1zM959 828h1v2h-1zM960 827h1v1h-1zM961 826h1v1h-1zM962 824h1v2h-1zM963 823h2v1h-2zM965 824h2v1h-2zM967 825h2v1h-2zM969 826h2v1h-2zM971 827h1v1h-1zM972 826h2v1h-2zM974 825h1v1h-1zM975 824h1v1h-1zM976 823h2v1h-2zM978 822h1v1h-1zM979 821h13v1h-13zM992 822h6v1h-6zM998 823h4v1h-4zM1002 824h2v1h-2zM1004 823h2v1h-2zM1006 822h1v1h-1zM1007 821h1v1h-1zM1008 820h2v1h-2zM1010 819h1v1h-1zM1011 818h9v1h-9zM1020 817h1v1h-1zM1021 815h1v2h-1zM1022 814h1v1h-1zM1023 813h1v1h-1zM1024 812h1v1h-1zM1025 810h1v2h-1zM1026 809h1v1h-1zM1027 808h2v1h-2zM1029 807h3v1h-3zM1032 806h2v1h-2zM1034 805h4v1h-4zM1038 806h4v1h-4zM1042 807h19v1h-19zM1061 808h2v1h-2zM1063 809h2v1h-2zM1065 810h2v1h-2zM1067 811h1v1h-1zM1068 809h1v2h-1zM1069 808h1v1h-1zM1070 806h1v2h-1zM1071 805h1v1h-1zM1072 803h1v2h-1zM1073 802h1v1h-1zM1074 800h1v2h-1zM1075 799h2v1h-2zM1077 798h3v1h-3zM1080 797h2v1h-2zM1082 796h6v1h-6zM1088 795h4v1h-4zM1092 796h2v1h-2zM1094 797h2v1h-2zM1096 798h1v1h-1zM1097 799h2v1h-2zM1099 800h2v1h-2zM1101 801h2v1h-2zM1103 802h2v1h-2zM1105 803h2v1h-2zM1107 804h3v1h-3zM1110 803h4v1h-4zM1114 802h10v1h-10zM1124 801h1v1h-1zM1125 800h1v1h-1zM1126 799h2v1h-2zM1128 798h1v1h-1zM1129 797h1v1h-1zM1130 796h1v1h-1zM1131 795h2v1h-2zM1133 794h3v1h-3zM1136 793h2v1h-2zM1138 792h2v1h-2zM1140 791h1v1h-1zM1141 790h1v1h-1zM1142 789h1v1h-1zM1143 788h1v1h-1zM1144 787h1v1h-1zM1145 786h1v1h-1zM1146 785h1v1h-1zM1147 784h2v1h-2zM1149 783h3v1h-3zM1152 782h2v1h-2zM1154 781h2v1h-2zM1156 782h1v2h-1zM1157 784h1v2h-1zM1158 786h1v2h-1zM1159 788h1v2h-1zM1160 790h1v2h-1zM1161 792h1v2h-1zM1162 794h1v2h-1zM1163 796h1v1h-1zM1164 795h2v1h-2zM1166 794h1v1h-1zM1167 793h1v1h-1zM1168 792h2v1h-2zM1170 791h1v1h-1zM1171 790h3v1h-3zM1174 789h4v1h-4zM1178 788h6v1h-6zM1184 787h4v1h-4zM1188 788h1v1h-1zM1189 789h1v1h-1zM1190 790h1v1h-1zM1191 791h1v1h-1zM1192 792h1v1h-1zM1193 793h1v1h-1zM1194 794h1v1h-1zM1195 795h1v1h-1zM1196 794h1v1h-1zM1197 793h1v1h-1zM1198 792h2v1h-2zM1200 791h1v1h-1zM1201 790h1v1h-1zM1202 789h1v1h-1zM1203 788h1v1h-1zM1204 787h2v1h-2zM1206 786h2v1h-2zM1208 785h1v1h-1zM1209 784h2v1h-2zM1211 783h1v2h-1zM1212 785h1v2h-1zM1213 787h1v2h-1zM1214 789h1v3h-1zM1215 792h1v2h-1zM1216 794h1v3h-1zM1217 797h1v2h-1zM1218 799h1v2h-1zM1219 801h1v2h-1zM1220 802h1v1h-1zM1221 803h2v1h-2zM1223 804h2v1h-2zM1225 805h2v1h-2zM1227 806h5v1h-5zM1232 805h16v1h-16zM1248 804h8v1h-8zM1256 803h4v1h-4zM1260 802h1v1h-1zM1261 801h1v1h-1zM1262 800h2v1h-2zM1264 799h1v1h-1zM1265 798h1v1h-1zM1266 797h1v1h-1zM1267 796h13v1h-13zM1280 795h5v1h-5zM1285 794h3v1h-3zM1288 793h2v1h-2zM1290 792h4v1h-4zM1294 791h4v1h-4zM1298 790h4v1h-4zM1302 789h4v1h-4zM1306 788h2v1h-2zM1308 787h2v1h-2zM1310 786h2v1h-2zM1312 785h1v1h-1zM1313 784h2v1h-2zM1315 783h5v1h-5zM1320 784h8v1h-8zM1328 783h4v1h-4zM1332 784h1v1h-1zM1333 785h1v1h-1zM1334 786h1v1h-1zM1335 787h1v2h-1zM1336 789h1v1h-1zM1337 790h1v1h-1zM1338 791h1v1h-1zM1339 792h2v1h-2zM1341 793h3v1h-3zM1344 794h2v1h-2zM1346 795h2v1h-2zM1348 794h2v1h-2zM1350 793h2v1h-2zM1352 792h1v1h-1zM1353 791h2v1h-2zM1355 790h1v1h-1zM1356 791h1v2h-1zM1357 793h1v2h-1zM1358 795h1v2h-1zM1359 797h1v1h-1zM1360 798h1v2h-1zM1361 800h1v2h-1zM1362 802h1v2h-1zM1363 804h1v1h-1zM1364 805h1v2h-1zM1365 807h1v2h-1zM1366 809h1v2h-1zM1367 811h1v1h-1zM1368 812h1v2h-1zM1369 814h1v2h-1zM1370 816h1v2h-1zM1371 818h1v1h-1zM1372 819h1v1h-1zM1373 820h1v1h-1zM1374 821h2v1h-2zM1376 822h1v1h-1zM1377 823h1v1h-1zM1378 824h1v1h-1zM1379 825h9v1h-9zM1387 826h1v1h-1zM1388 827h1v3h-1zM1389 830h1v3h-1zM1390 833h1v3h-1zM1391 836h1v4h-1zM1392 840h1v3h-1zM1393 843h1v3h-1zM1394 846h1v3h-1zM1395 849h1v2h-1zM1396 850h2v1h-2zM1398 851h4v1h-4zM1402 852h2v1h-2zM1404 850h1v2h-1zM1405 848h1v2h-1zM1406 847h1v1h-1zM1407 845h1v2h-1zM1408 844h1v1h-1zM1409 842h1v2h-1zM1410 840h1v2h-1zM1411 839h1v1h-1z" fill="#1e90ff" shape-rendering="crispEdges"/>
<g shape-rendering="crispEdges" fill="#000">
<rect x="0" y="26" width="1683" height="1"/>
<rect x="1682" y="26" width="1" height="902"/>
<rect x="0" y="579" width="1683" height="1"/>
<rect x="0" y="581" width="1683" height="1"/>
<rect x="0" y="751" width="1683" height="1"/>
<rect x="0" y="753" width="1683" height="1"/>
<rect x="0" y="927" width="1683" height="1"/>
<rect x="59" y="928" width="1" height="3"/>
<rect x="123" y="928" width="1" height="3"/>
<rect x="187" y="928" width="1" height="3"/>
<rect x="251" y="928" width="1" height="3"/>
<rect x="315" y="928" width="1" height="3"/>
<rect x="379" y="928" width="1" height="3"/>
<rect x="443" y="928" width="1" height="3"/>
<rect x="507" y="928" width="1" height="3"/>
<rect x="571" y="928" width="1" height="3"/>
<rect x="635" y="928" width="1" height="3"/>
<rect x="699" y="928" width="1" height="3"/>
<rect x="763" y="928" width="1" height="3"/>
<rect x="827" y="928" width="1" height="3"/>
<rect x="891" y="928" width="1" height="3"/>
<rect x="955" y="928" width="1" height="3"/>
<rect x="1019" y="928" width="1" height="3"/>
<rect x="1083" y="928" width="1" height="3"/>
<rect x="1147" y="928" width="1" height="3"/>
<rect x="1211" y="928" width="1" height="3"/>
<rect x="1275" y="928" width="1" height="3"/>
<rect x="1339" y="928" width="1" height="3"/>
<rect x="1403" y="928" width="1" height="3"/>
<rect x="1683" y="48" width="2" height="1"/>
<rect x="1683" y="81" width="2" height="1"/>
<rect x="1683" y="114" width="2" height="1"/>
<rect x="1683" y="147" width="2" height="1"/>
<rect x="1683" y="180" width="2" height="1"/>
<rect x="1683" y="213" width="2" height="1"/>
<rect x="1683" y="246" width="2" height="1"/>
<rect x="1683" y="279" width="2" height="1"/>
<rect x="1683" y="312" width="2" height="1"/>
<rect x="1683" y="345" width="2" height="1"/>
<rect x="1683" y="378" width="2" height="1"/>
<rect x="1683" y="411" width="2" height="1"/>
<rect x="1683" y="444" width="2" height="1"/>
<rect x="1683" y="477" width="2" height="1"/>
<rect x="1683" y="510" width="2" height="1"/>
<rect x="1683" y="543" width="2" height="1"/>
<rect x="1683" y="576" width="2" height="1"/>
<rect x="1683" y="583" width="1" height="1"/>
<rect x="1683" y="675" width="1" height="1"/>
<rect x="1683" y="750" width="1" height="1"/>
<rect x="1683" y="755" width="1" height="1"/>
<rect x="1683" y="789" width="1" height="1"/>
<rect x="1683" y="840" width="1" height="1"/>
<rect x="1683" y="901" width="1" height="1"/>
<rect x="1683" y="926" width="1" height="1"/>
</g>
<path d="M1422 27h10l-5 5z" fill="#b0b0b0"/>
<text class="ax" x="1688.6" y="52.2">152.745</text>
<text class="ax" x="1688.6" y="85.2">151.485</text>
<text class="ax" x="1688.6" y="118.1">150.225</text>
<text class="ax" x="1688.6" y="151.1">148.965</text>
<text class="ax" x="1688.6" y="184.1">147.705</text>
<text class="ax" x="1688.6" y="217">146.445</text>
<text class="ax" x="1688.6" y="250">145.185</text>
<text class="ax" x="1688.6" y="283">143.925</text>
<text class="ax" x="1688.6" y="316">142.700</text>
<text class="ax" x="1688.6" y="348.9">141.440</text>
<text class="ax" x="1688.6" y="381.9">140.180</text>
<text class="ax" x="1688.6" y="414.9">138.920</text>
<text class="ax" x="1688.6" y="447.8">137.660</text>
<text class="ax" x="1688.6" y="480.8">136.400</text>
<text class="ax" x="1688.6" y="513.8">135.140</text>
<text class="ax" x="1688.6" y="546.7">133.915</text>
<text class="ax" x="1688.6" y="579.7">132.655</text>
<text class="ax" x="1686.2" y="591.9">1.8026</text>
<text class="ax" x="1686.2" y="679.1">0.00</text>
<text class="ax" x="1686.2" y="747.9">-1.4717</text>
<text class="ax" x="1686.2" y="763.8">100</text>
<text class="ax" x="1686.2" y="792.8">80</text>
<text class="ax" x="1686.2" y="843.9">50</text>
<text class="ax" x="1686.2" y="904.9">15</text>
<text class="ax" x="1686.2" y="923.8">0</text>
<rect x="1684" y="72" width="41" height="11" fill="#ff0000" shape-rendering="crispEdges"/>
<text class="lb" x="1688.8" y="80.8">151.573</text>
<rect x="1684" y="94" width="41" height="11" fill="#ff0000" shape-rendering="crispEdges"/>
<text class="lb" x="1688.8" y="102.8">150.738</text>
<rect x="1684" y="116" width="41" height="11" fill="#000000" shape-rendering="crispEdges"/>
<text class="lb" x="1688.8" y="124.8">149.923</text>
<rect x="1684" y="123" width="41" height="11" fill="#20c8c8" shape-rendering="crispEdges"/>
<text class="lb" x="1688.8" y="131.8">149.637</text>
<rect x="1684" y="144" width="41" height="11" fill="#0000ff" shape-rendering="crispEdges"/>
<text class="lb" x="1688.8" y="152.8">148.840</text>
<rect x="1684" y="166" width="41" height="11" fill="#0000ff" shape-rendering="crispEdges"/>
<text class="lb" x="1688.8" y="174.8">148.004</text>
<rect x="1677.5" y="76.5" width="4" height="4" fill="#fff" stroke="#f00" stroke-width="1" shape-rendering="crispEdges"/>
<text class="ax" x="-6.3" y="939.8" textLength="52.6" lengthAdjust="spacingAndGlyphs">28 Aug 2020</text>
<text class="ax" x="57.7" y="939.8">7 Sep 2020</text>
<text class="ax" x="121.7" y="939.8">16 Sep 2020</text>
<text class="ax" x="185.7" y="939.8">25 Sep 2020</text>
<text class="ax" x="249.7" y="939.8">5 Oct 2020</text>
<text class="ax" x="313.7" y="939.8">14 Oct 2020</text>
<text class="ax" x="377.7" y="939.8">23 Oct 2020</text>
<text class="ax" x="441.7" y="939.8">2 Nov 2020</text>
<text class="ax" x="505.7" y="939.8">11 Nov 2020</text>
<text class="ax" x="569.7" y="939.8">20 Nov 2020</text>
<text class="ax" x="633.7" y="939.8">30 Nov 2020</text>
<text class="ax" x="697.7" y="939.8">9 Dec 2020</text>
<text class="ax" x="761.7" y="939.8">18 Dec 2020</text>
<text class="ax" x="825.7" y="939.8">29 Dec 2020</text>
<text class="ax" x="889.7" y="939.8">8 Jan 2021</text>
<text class="ax" x="953.7" y="939.8">18 Jan 2021</text>
<text class="ax" x="1017.7" y="939.8">27 Jan 2021</text>
<text class="ax" x="1081.7" y="939.8">5 Feb 2021</text>
<text class="ax" x="1145.7" y="939.8">15 Feb 2021</text>
<text class="ax" x="1209.7" y="939.8">24 Feb 2021</text>
<text class="ax" x="1273.7" y="939.8">5 Mar 2021</text>
<text class="ax" x="1337.7" y="939.8">15 Mar 2021</text>
<text class="ax" x="1401.7" y="939.8">24 Mar 2021</text>
<path d="M0 37l2.5-3.5 2.5 3.5z" fill="#000"/>
<text class="ax" x="10.4" y="38" textLength="209" lengthAdjust="spacingAndGlyphs">GBPJPY-,Daily&#160;&#160;148.899 150.038 148.893 149.923</text>
<text class="ax" x="-0.3" y="594" textLength="127.3" lengthAdjust="spacingAndGlyphs">MACD(12,26,9) 0.5470 1.1244</text>
<text class="ax" x="-0.5" y="766" textLength="67.3" lengthAdjust="spacingAndGlyphs">RSI(14) 51.5481</text>
<g shape-rendering="crispEdges" fill="#f00">
<rect x="1354" y="52" width="10" height="1"/><rect x="1363" y="52" width="1" height="7"/>
<rect x="1394" y="159" width="6" height="1"/>
<rect x="1133" y="129" width="7" height="1"/>
</g>
<rect x="1130.5" y="127.5" width="2" height="3" fill="#fff" stroke="#f00" stroke-width="1" shape-rendering="crispEdges"/>
<line x1="1220" y1="183.5" x2="1361.6" y2="64.5" stroke="#f00" stroke-width="3.1" stroke-linecap="round"/>
<path d="M1367 60L1362.7 68.9L1357.5 62.7z" fill="#f00"/>
<line x1="1366.5" y1="60.5" x2="1400.9" y2="155.5" stroke="#f00" stroke-width="3.4" stroke-linecap="round"/>
<path d="M1404 164L1394.6 155.7L1405.9 151.6z" fill="#f00"/>
<line x1="1404" y1="163" x2="1415.2" y2="137.9" stroke="#f00" stroke-width="3" stroke-linecap="round"/>
<path d="M1418 131.5L1418.5 141.6L1410.2 137.9z" fill="#f00"/>
<line x1="1356.3" y1="595" x2="1422.7" y2="651.8" stroke="#f00" stroke-width="3" stroke-linecap="round"/>
<path d="M1428 656.3L1418.2 653.9L1424.1 647z" fill="#f00"/>
<line x1="1347.5" y1="779" x2="1396.8" y2="846.5" stroke="#f00" stroke-width="3" stroke-linecap="round"/>
<path d="M1401.5 853L1391.6 847.9L1399.6 842z" fill="#f00"/>
<line x1="1401.5" y1="853" x2="1413.7" y2="846.4" stroke="#f00" stroke-width="3" stroke-linecap="round"/>
<path d="M1419 843.5L1414.1 851.3L1409.8 843.4z" fill="#f00"/>
<rect x="1292.5" y="43.5" width="61" height="18" fill="#fff" stroke="#f00" stroke-width="1" shape-rendering="crispEdges"/>
<text class="ser" x="1295.3" y="58.2" textLength="56.6" lengthAdjust="spacingAndGlyphs">152.561</text>
<rect x="1332.5" y="151.5" width="61" height="18" fill="#fff" stroke="#f00" stroke-width="1" shape-rendering="crispEdges"/>
<text class="ser" x="1335.3" y="166.2" textLength="56.6" lengthAdjust="spacingAndGlyphs">148.460</text>
<rect x="1068.5" y="120.5" width="61" height="18" fill="#fff" stroke="#f00" stroke-width="1" shape-rendering="crispEdges"/>
<text class="ser" x="1071.3" y="135.2" textLength="56.6" lengthAdjust="spacingAndGlyphs">149.637</text>
<text x="1485.5" y="154.6" font-size="21" fill="#00ff00" textLength="107" lengthAdjust="spacingAndGlyphs" style="font-family:'Liberation Serif','Noto Serif CJK SC',serif">多空转折点</text>
<g shape-rendering="crispEdges">
<rect x="0" y="46" width="219" height="64" fill="#fff"/>
<rect x="0" y="46" width="50" height="24" fill="#2c2cc8"/><rect x="0" y="47" width="49" height="23" fill="url(#gb1)"/>
<rect x="165" y="46" width="52" height="24" fill="#2c2cc8"/><rect x="166" y="47" width="50" height="23" fill="url(#gb1)"/>
<rect x="0" y="70" width="107" height="40" fill="url(#gb2)"/>
<rect x="109" y="70" width="108" height="40" fill="url(#gb2)"/>
<rect x="2" y="69.400" width="44" height="1.300" fill="#7c7cf4" shape-rendering="auto"/>
<rect x="169" y="69.400" width="44" height="1.300" fill="#7c7cf4" shape-rendering="auto"/>
<rect x="52.5" y="46.5" width="110" height="21" fill="#fff" stroke="#b4b4b4" stroke-width="1"/>
<rect x="53.5" y="47.5" width="19" height="19" fill="url(#gsp)" stroke="#c8c8c8" stroke-width="1"/>
<rect x="142.5" y="47.5" width="19" height="19" fill="url(#gsp)" stroke="#c8c8c8" stroke-width="1"/>
</g>
<path d="M60 55h5l-2.5 3z" fill="#4a5a9a"/>
<path d="M149 58h5l-2.500-3z" fill="#4a5a9a"/>
<text x="10.6" y="61.8" font-size="12" fill="#fff" textLength="25.5" lengthAdjust="spacingAndGlyphs">SELL</text>
<text x="178.5" y="61.8" font-size="12" fill="#fff" textLength="23" lengthAdjust="spacingAndGlyphs">BUY</text>
<text x="137.7" y="61" font-size="12" fill="#000" text-anchor="end">1.00</text>
<text x="21.500" y="101.100" font-size="12.600" font-weight="bold" fill="#fff" textLength="20.400" lengthAdjust="spacingAndGlyphs">149</text>
<text x="45" y="101.400" font-size="34.400" fill="#fff" textLength="35.200" lengthAdjust="spacingAndGlyphs">92</text>
<text x="85.300" y="84.600" font-size="12.300" font-weight="bold" fill="#fff">3</text>
<text x="131.500" y="101.100" font-size="12.600" font-weight="bold" fill="#fff" textLength="20.400" lengthAdjust="spacingAndGlyphs">149</text>
<text x="156.400" y="101.400" font-size="34.400" fill="#fff" textLength="35.200" lengthAdjust="spacingAndGlyphs">98</text>
<text x="196.300" y="84.600" font-size="12.300" font-weight="bold" fill="#fff">1</text>
<defs><pattern id="chk" width="2" height="2" patternUnits="userSpaceOnUse"><rect width="2" height="2" fill="#fff"/><rect width="1" height="1" fill="#efefef"/><rect x="1" y="1" width="1" height="1" fill="#efefef"/></pattern><linearGradient id="gold" x1="0" y1="0" x2="1" y2="1"><stop offset="0" stop-color="#f3c22a"/><stop offset="0.45" stop-color="#ffe98a"/><stop offset="1" stop-color="#c88a10"/></linearGradient><linearGradient id="gplus" x1="0" y1="0" x2="0" y2="1"><stop offset="0" stop-color="#7df07d"/><stop offset="1" stop-color="#00b400"/></linearGradient><radialGradient id="lens" cx="0.4" cy="0.35" r="0.7"><stop offset="0" stop-color="#f4fbff"/><stop offset="1" stop-color="#c4e0f4"/></radialGradient><linearGradient id="hand" x1="0" y1="0" x2="1" y2="0"><stop offset="0" stop-color="#f7e27a"/><stop offset="1" stop-color="#c79a1a"/></linearGradient><linearGradient id="gbadge" x1="0" y1="0" x2="0" y2="1"><stop offset="0" stop-color="#ea6a48"/><stop offset="0.5" stop-color="#de3820"/><stop offset="1" stop-color="#cc1810"/></linearGradient><linearGradient id="gblue" x1="0" y1="0" x2="0" y2="1"><stop offset="0" stop-color="#3c68dc"/><stop offset="1" stop-color="#1434b4"/></linearGradient><linearGradient id="ggrn" x1="0" y1="0" x2="0" y2="1"><stop offset="0" stop-color="#5cb030"/><stop offset="1" stop-color="#2e9010"/></linearGradient><linearGradient id="gclk" x1="0" y1="0" x2="0" y2="1"><stop offset="0" stop-color="#3c8cf0"/><stop offset="1" stop-color="#0a4cb4"/></linearGradient><linearGradient id="gcloud" x1="0" y1="0" x2="0" y2="1"><stop offset="0" stop-color="#ffffff"/><stop offset="1" stop-color="#b8c8e8"/></linearGradient></defs>
<g>
<g shape-rendering="crispEdges">
<rect x="0" y="0" width="1729" height="22" fill="#f0f0f0"/>
<rect x="0" y="22" width="1729" height="1" fill="#bdbdbd"/>
<rect x="0" y="23" width="1729" height="1" fill="#6e6e6e"/>
<rect x="1728" y="24" width="1" height="915" fill="#e3e3e3"/>
<rect x="318" y="0" width="25" height="20" fill="url(#chk)"/>
<rect x="317" y="0" width="1" height="20" fill="#8c8c8c"/>
<rect x="470" y="0" width="24" height="20" fill="url(#chk)"/>
<rect x="469" y="0" width="1" height="20" fill="#8c8c8c"/>
<rect x="498" y="0" width="24" height="20" fill="url(#chk)"/>
<rect x="497" y="0" width="1" height="20" fill="#8c8c8c"/>
<rect x="658" y="0" width="24" height="20" fill="url(#chk)"/>
<rect x="657" y="0" width="1" height="20" fill="#8c8c8c"/>
<rect x="1132" y="0" width="24" height="20" fill="url(#chk)"/>
<rect x="1131" y="0" width="1" height="20" fill="#8c8c8c"/>
<rect x="43" y="0" width="1" height="20" fill="#a0a0a0"/>
<rect x="374" y="0" width="1" height="20" fill="#a0a0a0"/>
<rect x="464" y="0" width="1" height="20" fill="#a0a0a0"/>
<rect x="526" y="0" width="1" height="20" fill="#a0a0a0"/>
<rect x="714" y="0" width="1" height="20" fill="#a0a0a0"/>
<rect x="279" y="0" width="1" height="22" fill="#a0a0a0"/><rect x="280" y="0" width="1" height="22" fill="#fafafa"/>
<rect x="647" y="0" width="1" height="22" fill="#a0a0a0"/><rect x="648" y="0" width="1" height="22" fill="#fafafa"/>
<rect x="953" y="0" width="1" height="22" fill="#a0a0a0"/><rect x="954" y="0" width="1" height="22" fill="#fafafa"/>
<rect x="1214" y="0" width="1" height="22" fill="#a0a0a0"/><rect x="1215" y="0" width="1" height="22" fill="#fafafa"/>
<rect x="283" y="0" width="3" height="1" fill="#a8a8a8"/>
<rect x="283" y="2" width="3" height="1" fill="#a8a8a8"/>
<rect x="283" y="4" width="3" height="1" fill="#a8a8a8"/>
<rect x="283" y="6" width="3" height="1" fill="#a8a8a8"/>
<rect x="283" y="8" width="3" height="1" fill="#a8a8a8"/>
<rect x="283" y="10" width="3" height="1" fill="#a8a8a8"/>
<rect x="283" y="12" width="3" height="1" fill="#a8a8a8"/>
<rect x="283" y="14" width="3" height="1" fill="#a8a8a8"/>
<rect x="283" y="16" width="3" height="1" fill="#a8a8a8"/>
<rect x="283" y="18" width="3" height="1" fill="#a8a8a8"/>
<rect x="651" y="0" width="3" height="1" fill="#a8a8a8"/>
<rect x="651" y="2" width="3" height="1" fill="#a8a8a8"/>
<rect x="651" y="4" width="3" height="1" fill="#a8a8a8"/>
<rect x="651" y="6" width="3" height="1" fill="#a8a8a8"/>
<rect x="651" y="8" width="3" height="1" fill="#a8a8a8"/>
<rect x="651" y="10" width="3" height="1" fill="#a8a8a8"/>
<rect x="651" y="12" width="3" height="1" fill="#a8a8a8"/>
<rect x="651" y="14" width="3" height="1" fill="#a8a8a8"/>
<rect x="651" y="16" width="3" height="1" fill="#a8a8a8"/>
<rect x="651" y="18" width="3" height="1" fill="#a8a8a8"/>
<rect x="957" y="0" width="3" height="1" fill="#a8a8a8"/>
<rect x="957" y="2" width="3" height="1" fill="#a8a8a8"/>
<rect x="957" y="4" width="3" height="1" fill="#a8a8a8"/>
<rect x="957" y="6" width="3" height="1" fill="#a8a8a8"/>
<rect x="957" y="8" width="3" height="1" fill="#a8a8a8"/>
<rect x="957" y="10" width="3" height="1" fill="#a8a8a8"/>
<rect x="957" y="12" width="3" height="1" fill="#a8a8a8"/>
<rect x="957" y="14" width="3" height="1" fill="#a8a8a8"/>
<rect x="957" y="16" width="3" height="1" fill="#a8a8a8"/>
<rect x="957" y="18" width="3" height="1" fill="#a8a8a8"/>
</g>
<rect x="-4" y="3.6" width="9.4" height="12.8" rx="1" fill="#fff" stroke="#2f74c0" stroke-width="1.2"/>
<rect x="-2" y="6" width="6" height="1" fill="#c8d8fa"/>
<rect x="-2" y="8" width="6" height="1" fill="#c8d8fa"/>
<rect x="-2" y="10" width="6" height="1" fill="#c8d8fa"/>
<rect x="-2" y="12" width="6" height="1" fill="#c8d8fa"/>
<rect x="18.5" y="2.5" width="12.2" height="13.2" rx="0.8" fill="#fff" stroke="#b0a890" stroke-width="1"/>
<path d="M21.5 4.5v8M20.5 8.5h1M28 4.5v5M28 6h1" stroke="#666" stroke-width="0.9" fill="none"/>
<path d="M30.2 14.4l4.2 4.2" stroke="#b8860b" stroke-width="3" stroke-linecap="butt"/>
<path d="M30.6 14l4.2 4.2" stroke="#e0b030" stroke-width="1.2"/>
<circle cx="26.5" cy="11" r="4.9" fill="url(#lens)" fill-opacity="0.92" stroke="#4a88d8" stroke-width="1.1"/>
<rect x="24.6" y="8.4" width="2.6" height="4.4" fill="#9ab" opacity="0.8"/>
<path d="M54.5 2.6h7l3.3 3.3v9.3q0 .8-.8.8h-9.500q-.8 0-.8-.8v-11.8q0-.8.8-.8z" fill="#fff" stroke="#606060" stroke-width="1"/>
<path d="M61.3 2.8v3.3h3.3" fill="#e8e8e8" stroke="#606060" stroke-width="0.8"/>
<path d="M55.5 5h2.6M55.3 8.5h6M55.3 10.5h5M55.3 12.5h3" stroke="#8a8a8a" stroke-width="1"/>
<path d="M61.3 8.3h3.8v3.7h3.7v3.8h-3.7v3.7h-3.8v-3.7h-3.7v-3.8h3.7z" fill="url(#gplus)" stroke="#0a8a0a" stroke-width="0.9"/>
<text x="71.8" y="13" font-size="12" fill="#000" textLength="36" lengthAdjust="spacingAndGlyphs" style="font-family:'Liberation Sans','Noto Sans CJK SC',sans-serif">新订单</text>
<path d="M119.900 12.200l8.300 5.700 7.800-5.400-.5-2-8 5.200-6.800-4.600z" fill="#b87818" stroke="#8a5808" stroke-width="0.600" stroke-linejoin="round"/>
<path d="M125.300 2.900l10 7.400-7.700 5.400-7.500-5.300q2.800-1.800 3.400-4.200.600-1.900 1.800-3.300z" fill="url(#gold)" stroke="#a86c10" stroke-width="0.900" stroke-linejoin="round"/>
<path d="M150.400 3.600l3.200-1.300v9.400l-3.200-.8z" fill="#1672e0"/>
<path d="M153.600 2.300l7.500.9v8l-7.500.5z" fill="#3a9cf6"/>
<path d="M154.700 4.300l5.500.4v5l-5.500.2z" fill="#dcebff"/>
<path d="M157 6.300l2.600-.3M155.500 8.300l4-.2" stroke="#2a6cd0" stroke-width="0.900"/>
<path d="M150.600 17.200q-2.600 0-2.600-2.200 0-2 2.200-2.200.4-2.400 3-2.400 1.800 0 2.600 1.400.8-.6 1.800-.6 2 0 2.400 2 3 .2 3.400 2 .2 2-2.200 2z" fill="url(#gcloud)" stroke="#5074c0" stroke-width="0.900"/>
<g fill="none" stroke-width="1.1">
<path d="M183.900 2.200a7.500 7.500 0 0 0 0 15" stroke="#5a84dc" opacity="0.4"/>
<path d="M183.900 4.400a5.300 5.300 0 0 0 0 10.600" stroke="#4a74d8" opacity="0.8"/>
<path d="M183.900 6.600a3.100 3.100 0 0 0 0 6.200" stroke="#3a64d4"/>
<path d="M183.900 2.200a7.500 7.500 0 0 1 0 15" stroke="#6aa86a" opacity="0.55"/>
<path d="M183.900 4.400a5.300 5.300 0 0 1 0 10.600" stroke="#5aa05a" opacity="0.8"/>
<path d="M183.900 6.600a3.100 3.100 0 0 1 0 6.200" stroke="#4a984a"/>
</g>
<path d="M183.900 9.700a7.700 7.700 0 0 1 5.400 5.400 7.700 7.700 0 0 1-5.400 2.400z" fill="#7ab87a" opacity="0.55"/>
<path d="M184.200 9.700v7.800" stroke="#10a010" stroke-width="1.200"/>
<circle cx="183.900" cy="9.500" r="1.500" fill="#2858d0"/>
<path d="M204 10.300l14.200-2 -.2 4.800-7 4.500z" fill="#f8d848" stroke="#d0a020" stroke-width="0.6"/>
<ellipse cx="211" cy="7.700" rx="8" ry="2.700" fill="#4a9ad8" stroke="#2878b8" stroke-width="0.600"/>
<path d="M206.600 7.400q.2-5 4.400-5 4.200 0 4.500 4.800-4.400 1.600-8.900.2z" fill="#6cb4e8" stroke="#2878b8" stroke-width="0.600"/>
<circle cx="215.400" cy="13.600" r="3.900" fill="#e02010"/>
<rect x="214.100" y="12.300" width="2.600" height="2.600" fill="#fff"/>
<text x="225.800" y="13.400" font-size="11.500" fill="#000" textLength="44.500" lengthAdjust="spacingAndGlyphs" style="font-family:'Liberation Sans','Noto Sans CJK SC',sans-serif">自动交易</text>
<path d="M297.5 4.500V17.800M295 15.500H308.5" stroke="#505050" stroke-width="1.200" fill="none"/>
<path d="M297.5 3.600l-1.700 2.400h3.400zM309.4 15.500l-2.400-1.700v3.400z" fill="#505050"/>
<path d="M303.500 5.300V13.600M303.500 6.400H306M301 12.400H303.500" stroke="#0a8c0a" stroke-width="1.400" fill="none"/>
<path d="M325.2 4.500V17.800M322.7 15.500H336.2" stroke="#505050" stroke-width="1.200" fill="none"/>
<path d="M325.2 3.600l-1.700 2.400h3.400zM337.09999999999997 15.500l-2.400-1.700v3.400z" fill="#505050"/>
<path d="M331.500 2.300V13.900" stroke="#0a8c0a" stroke-width="1.400"/>
<rect x="329.200" y="4.400" width="4.800" height="7.500" rx="0.600" fill="#58e458" stroke="#0a8c0a" stroke-width="1"/>
<path d="M353.4 4.500V17.800M350.9 15.500H364.4" stroke="#505050" stroke-width="1.200" fill="none"/>
<path d="M353.4 3.600l-1.700 2.400h3.400zM365.29999999999995 15.500l-2.400-1.700v3.400z" fill="#505050"/>
<path d="M352.300 12.600Q355.600 10 357 8T359.300 7.300Q361.800 10.800 364 11.300" stroke="#2a9c2a" stroke-width="1.100" fill="none"/>
<path d="M393.2 12.300l4.700 4.600" stroke="#a07810" stroke-width="3.200"/>
<path d="M393.4 12.100l4.700 4.600" stroke="#f0d860" stroke-width="1.600"/>
<circle cx="389" cy="8.100" r="5.500" fill="url(#lens)" stroke="#3a7cc8" stroke-width="1.200"/>
<path d="M386 8.100h6M389 5.100v6" stroke="#3c88b8" stroke-width="1.800"/>
<path d="M421.3 12.300l4.700 4.600" stroke="#a07810" stroke-width="3.200"/>
<path d="M421.5 12.100l4.700 4.600" stroke="#f0d860" stroke-width="1.600"/>
<circle cx="417.1" cy="8.100" r="5.500" fill="url(#lens)" stroke="#3a7cc8" stroke-width="1.200"/>
<path d="M414.1 8.100h6" stroke="#3c88b8" stroke-width="1.800"/>
<rect x="439.2" y="2.3" width="7.700" height="7.600" fill="url(#ggrn)"/>
<rect x="440.09999999999997" y="5.3" width="5.900" height="3.700" rx="0.500" fill="#fbfdff"/>
<rect x="441.2" y="6.7" width="3.700" height="0.800" fill="#a8c0e8"/>
<rect x="440.09999999999997" y="3.4" width="1" height="1" fill="#e8f0ff"/>
<rect x="447.2" y="2.3" width="7.700" height="7.600" fill="url(#gblue)"/>
<rect x="448.09999999999997" y="5.3" width="5.900" height="3.700" rx="0.500" fill="#fbfdff"/>
<rect x="449.2" y="6.7" width="3.700" height="0.800" fill="#a8c0e8"/>
<rect x="448.09999999999997" y="3.4" width="1" height="1" fill="#e8f0ff"/>
<rect x="439.2" y="10.2" width="7.700" height="7.600" fill="url(#gblue)"/>
<rect x="440.09999999999997" y="13.2" width="5.900" height="3.700" rx="0.500" fill="#fbfdff"/>
<rect x="441.2" y="14.6" width="3.700" height="0.800" fill="#a8c0e8"/>
<rect x="440.09999999999997" y="11.299999999999999" width="1" height="1" fill="#e8f0ff"/>
<rect x="447.2" y="10.2" width="7.700" height="7.600" fill="url(#ggrn)"/>
<rect x="448.09999999999997" y="13.2" width="5.900" height="3.700" rx="0.500" fill="#fbfdff"/>
<rect x="449.2" y="14.6" width="3.700" height="0.800" fill="#a8c0e8"/>
<rect x="448.09999999999997" y="11.299999999999999" width="1" height="1" fill="#e8f0ff"/>
<path d="M477.5 4.500V17.800M475 15.500H488.5" stroke="#505050" stroke-width="1.200" fill="none"/>
<path d="M477.5 3.600l-1.700 2.400h3.400zM489.4 15.500l-2.400-1.700v3.400z" fill="#505050"/>
<path d="M482 6.200l3.900 3.400-3.900 3.400z" fill="#58d058" stroke="#0a9c0a" stroke-width="1"/>
<path d="M505.3 4.500V17.800M502.8 15.500H516.3" stroke="#505050" stroke-width="1.200" fill="none"/>
<path d="M505.3 3.600l-1.700 2.400h3.400zM517.2 15.500l-2.400-1.700v3.400z" fill="#505050"/>
<path d="M511.500 3.900V13.900" stroke="#0a70a8" stroke-width="1.400"/>
<path d="M512.300 9.600H517" stroke="#d05000" stroke-width="1.100"/>
<path d="M512.200 9.600l3.200-2.200-.8 2.200.8 2.200z" fill="#d84800"/>
<path d="M537.300 2.500h7l3.300 3.300v8.700q0 .8-.8.8h-9.500q-.8 0-.8-.8v-11.200q0-.8.8-.8z" fill="#fff" stroke="#707070" stroke-width="1"/>
<path d="M544.300 2.700v3.200h3.200" fill="#e8e8e8" stroke="#707070" stroke-width="0.8"/>
<path d="M541.800 4.800q-1.600-.2-1.800 1.400v6.600q0 1.200-1.200 1.200M538.600 8.200h3" stroke="#7a6a4a" stroke-width="0.9" fill="none"/>
<path d="M544.300 8.300h3.800v3.700h3.700v3.800h-3.700v3.700h-3.800v-3.700h-3.700v-3.800h3.700z" fill="url(#gplus)" stroke="#0a8a0a" stroke-width="0.9"/>
<path d="M558 9.200h5.400l-2.700 2.900z" fill="#000"/>
<path d="M597 9.200h5.400l-2.700 2.900z" fill="#000"/>
<path d="M636 9.200h5.400l-2.700 2.900z" fill="#000"/>
<path d="M942 9.200h5.400l-2.700 2.900z" fill="#000"/>
<circle cx="581.900" cy="9.800" r="6.700" fill="#f4f8fc" stroke="url(#gclk)" stroke-width="2.700"/>
<circle cx="581.900" cy="9.800" r="8.100" fill="none" stroke="#0a48a8" stroke-width="0.500"/>
<path d="M581.400 6.300v3.800l2.600.6" stroke="#222" stroke-width="1.100" fill="none"/>
<path d="M581.900 4.200v.8M581.900 14.600v.8M576.300 9.800h.8M586.700 9.800h.8M578 6l.5.500M585.800 6l-.5.500M578 13.600l.5-.5M585.800 13.600l-.5-.5" stroke="#8898b8" stroke-width="0.700"/>
<rect x="613.600" y="3.400" width="15" height="13" fill="#fff" stroke="#3a74c0" stroke-width="1"/>
<rect x="614.100" y="3.900" width="14" height="1.800" fill="#5a94e0"/>
<path d="M613.600 11.300h15" stroke="#3a74c0" stroke-width="1"/>
<path d="M615.500 9.300h1.500l1.600-1h1.400l1.500-1h1.500l1.400 1h1.500l1.500-1" stroke="#98240a" stroke-width="1.200" fill="none"/>
<path d="M616 14.300h1.400l1.500-1h1.500l1.400 1 1.600-1 1.400-1 1.400 1 1.200 1.200" stroke="#0a8c0a" stroke-width="1.200" fill="none"/>
<path d="M665 2.900v11.200l2.500-2.500 2.500 5.700 2-.9-2.600-5.500 3.600-.2z" fill="#484848"/>
<path d="M690 10.400h6.400M698.400 10.400h6.600M697.400 2.900v6.500M697.400 11.400v6.500" stroke="#484848" stroke-width="1.400" fill="none"/>
<path d="M731.500 4v13M754 10.400h12" stroke="#484848" stroke-width="1.400" fill="none"/>
<path d="M782 16.800L794.200 4.700" stroke="#484848" stroke-width="1.300" fill="none"/>
<path d="M807.600 11.500l10.800-7.700M808.900 15.900l12.100-10.200M812.700 16.500l8.900-7.600" stroke="#484848" stroke-width="1" fill="none"/>
<path d="M811.200 8.800l-.9 6.200M814 6.600l-1 6.800M816.700 4.700l-1 7M819.700 1.800l-.8 7.600M809.800 12.400l2.400-1M812.600 10l2.400-1M815.400 7.800l2.400-1M818.200 5.600l2.500-1" stroke="#484848" stroke-width="0.900" fill="none"/>
<path d="M819.500 14.700h3.400M819.500 16.500h2.800M819.500 18.400h3.400M819.600 14.400v4.400" stroke="#333" stroke-width="1.100" fill="none"/>
<path d="M837 3.200H850.3" stroke="#484848" stroke-width="1" stroke-dasharray="1 1" fill="none"/>
<path d="M837 6.500H850.3" stroke="#484848" stroke-width="1" stroke-dasharray="1 1" fill="none"/>
<path d="M837 10.400H850.3" stroke="#484848" stroke-width="1" stroke-dasharray="1 1" fill="none"/>
<path d="M837 14.800H846.3" stroke="#484848" stroke-width="1" stroke-dasharray="1 1" fill="none"/>
<path d="M847.500 14.700h3.500M847.500 16.600h2.800M847.700 14.300v4.600" stroke="#333" stroke-width="1.100" fill="none"/>
<path d="M868.200 14.800l2.900-8.500h1.300l2.900 8.500M869.300 12h4.900" stroke="#555" stroke-width="1.300" fill="none"/>
<rect x="894.500" y="4.700" width="11" height="11.800" fill="none" stroke="#484848" stroke-width="1" stroke-dasharray="1 1"/>
<rect x="893.200" y="3.300" width="1.800" height="1.300" fill="#484848"/>
<path d="M896.500 7.400h7.400M900.200 7.400v7.300" stroke="#555" stroke-width="1.500" fill="none"/>
<path d="M924.500 3.900l3.400 3.300-3.400 1.600-3.400-1.600z" fill="#484848"/>
<path d="M923.200 11.700l2 1.700 4.600-5" stroke="#484848" stroke-width="1.300" fill="none"/>
<path d="M928.300 12.400l3.400-1.300 3.400 1.300-3.400 3.900z" fill="#484848"/>
<text x="968.6" y="13.900" font-size="9.300" fill="#444" textLength="12.5" lengthAdjust="spacingAndGlyphs">M1</text>
<text x="996.7" y="13.900" font-size="9.300" fill="#444" textLength="12.6" lengthAdjust="spacingAndGlyphs">M5</text>
<text x="1022.8" y="13.900" font-size="9.300" fill="#444" textLength="17.4" lengthAdjust="spacingAndGlyphs">M15</text>
<text x="1050.7" y="13.900" font-size="9.300" fill="#444" textLength="17.4" lengthAdjust="spacingAndGlyphs">M30</text>
<text x="1081.7" y="13.900" font-size="9.300" fill="#444" textLength="11.3" lengthAdjust="spacingAndGlyphs">H1</text>
<text x="1108.8" y="13.900" font-size="9.300" fill="#444" textLength="12" lengthAdjust="spacingAndGlyphs">H4</text>
<text x="1137.8" y="13.900" font-size="9.300" fill="#444" textLength="11.2" lengthAdjust="spacingAndGlyphs">D1</text>
<text x="1165.3" y="13.900" font-size="9.300" fill="#444" textLength="13.8" lengthAdjust="spacingAndGlyphs">W1</text>
<text x="1191.9" y="13.900" font-size="9.300" fill="#444" textLength="14.5" lengthAdjust="spacingAndGlyphs">MN</text>
<path d="M1681.300 10.800l-4.300 4" stroke="#2050d0" stroke-width="2.600" stroke-linecap="round"/>
<circle cx="1684.500" cy="7.600" r="4" fill="#fbfbff" stroke="#2a5cdc" stroke-width="1.300"/>
<path d="M1701.300 12q0-4.400 5.200-4.400 5.200 0 5.200 4.400 0 4-5.200 4.200-.8 0-1.200-.1l-1 2-.3-2.300q-2.700-1-2.700-3.800z" fill="#e8e8ee" stroke="#b8b8b8" stroke-width="0.800"/>
<circle cx="1715.700" cy="7.400" r="8.200" fill="url(#gbadge)"/>
<text x="1714.400" y="11.500" font-size="12.500" font-weight="bold" fill="#fff" text-anchor="middle" style="font-family:'Liberation Serif',serif">1</text>
</g>
</svg></body></html>
